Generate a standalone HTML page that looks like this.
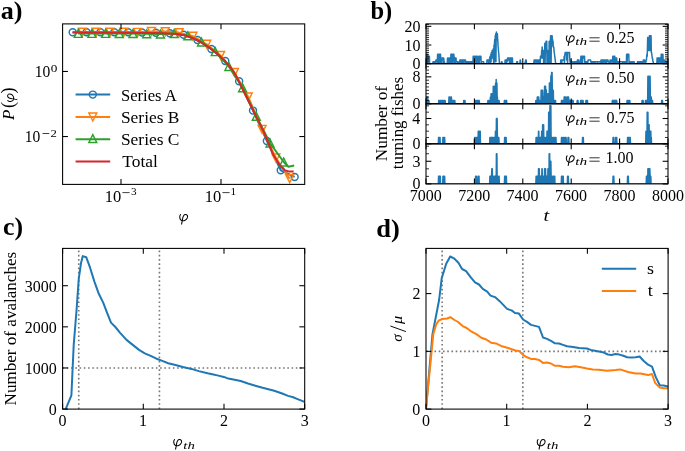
<!DOCTYPE html>
<html><head><meta charset="utf-8"><style>
html,body{margin:0;padding:0;background:#fff;}
svg{display:block;will-change:transform;}
text{font-family:"Liberation Serif", serif;fill:#000;}
</style></head><body>
<svg width="685" height="451" viewBox="0 0 685 451">
<rect width="685" height="451" fill="#fff"/>
<clipPath id="ca"><rect x="62.6" y="23.9" width="242.1" height="160.5"/></clipPath>
<g clip-path="url(#ca)">
<polyline points="72.7,32.2 86.57,32.2 100.44,32.2 114.31,32.25 128.18,32.29 142.05,32.48 155.92,32.73 169.79,33.24 183.66,34.75 197.53,40.07 211.4,49 225.27,60.99 239.14,81.3 253.01,110.6 266.88,140.9 280.75,170.3 294.62,176.9" fill="none" stroke="#1f77b4" stroke-width="2.0" stroke-linejoin="round" />
<circle cx="72.7" cy="32.2" r="3.5" fill="none" stroke="#1f77b4" stroke-width="1.45"/>
<circle cx="86.57" cy="32.2" r="3.5" fill="none" stroke="#1f77b4" stroke-width="1.45"/>
<circle cx="100.44" cy="32.2" r="3.5" fill="none" stroke="#1f77b4" stroke-width="1.45"/>
<circle cx="114.31" cy="32.25" r="3.5" fill="none" stroke="#1f77b4" stroke-width="1.45"/>
<circle cx="128.18" cy="32.29" r="3.5" fill="none" stroke="#1f77b4" stroke-width="1.45"/>
<circle cx="142.05" cy="32.48" r="3.5" fill="none" stroke="#1f77b4" stroke-width="1.45"/>
<circle cx="155.92" cy="32.73" r="3.5" fill="none" stroke="#1f77b4" stroke-width="1.45"/>
<circle cx="169.79" cy="33.24" r="3.5" fill="none" stroke="#1f77b4" stroke-width="1.45"/>
<circle cx="183.66" cy="34.75" r="3.5" fill="none" stroke="#1f77b4" stroke-width="1.45"/>
<circle cx="197.53" cy="40.07" r="3.5" fill="none" stroke="#1f77b4" stroke-width="1.45"/>
<circle cx="211.4" cy="49" r="3.5" fill="none" stroke="#1f77b4" stroke-width="1.45"/>
<circle cx="225.27" cy="60.99" r="3.5" fill="none" stroke="#1f77b4" stroke-width="1.45"/>
<circle cx="239.14" cy="81.3" r="3.5" fill="none" stroke="#1f77b4" stroke-width="1.45"/>
<circle cx="253.01" cy="110.6" r="3.5" fill="none" stroke="#1f77b4" stroke-width="1.45"/>
<circle cx="266.88" cy="140.9" r="3.5" fill="none" stroke="#1f77b4" stroke-width="1.45"/>
<circle cx="280.75" cy="170.3" r="3.5" fill="none" stroke="#1f77b4" stroke-width="1.45"/>
<circle cx="294.62" cy="176.9" r="3.5" fill="none" stroke="#1f77b4" stroke-width="1.45"/>
<polyline points="82.4,32.1 96.22,32.1 110.04,32.13 123.86,32.18 137.68,32.32 151.5,31.53 165.32,31.61 179.14,32.61 192.96,36.18 206.78,44.29 220.6,55.45 234.42,72.5 248.24,97 262.06,129.3 275.88,158 289.7,178.7" fill="none" stroke="#ff7f0e" stroke-width="2.0" stroke-linejoin="round" />
<polygon points="78.45,28.15 86.35,28.15 82.4,36.05" fill="none" stroke="#ff7f0e" stroke-width="1.45" stroke-linejoin="miter"/>
<polygon points="92.27,28.15 100.17,28.15 96.22,36.05" fill="none" stroke="#ff7f0e" stroke-width="1.45" stroke-linejoin="miter"/>
<polygon points="106.09,28.18 113.99,28.18 110.04,36.08" fill="none" stroke="#ff7f0e" stroke-width="1.45" stroke-linejoin="miter"/>
<polygon points="119.91,28.23 127.81,28.23 123.86,36.13" fill="none" stroke="#ff7f0e" stroke-width="1.45" stroke-linejoin="miter"/>
<polygon points="133.73,28.37 141.63,28.37 137.68,36.27" fill="none" stroke="#ff7f0e" stroke-width="1.45" stroke-linejoin="miter"/>
<polygon points="147.55,27.58 155.45,27.58 151.5,35.48" fill="none" stroke="#ff7f0e" stroke-width="1.45" stroke-linejoin="miter"/>
<polygon points="161.37,27.66 169.27,27.66 165.32,35.56" fill="none" stroke="#ff7f0e" stroke-width="1.45" stroke-linejoin="miter"/>
<polygon points="175.19,28.66 183.09,28.66 179.14,36.56" fill="none" stroke="#ff7f0e" stroke-width="1.45" stroke-linejoin="miter"/>
<polygon points="189.01,32.23 196.91,32.23 192.96,40.13" fill="none" stroke="#ff7f0e" stroke-width="1.45" stroke-linejoin="miter"/>
<polygon points="202.83,40.34 210.73,40.34 206.78,48.24" fill="none" stroke="#ff7f0e" stroke-width="1.45" stroke-linejoin="miter"/>
<polygon points="216.65,51.5 224.55,51.5 220.6,59.4" fill="none" stroke="#ff7f0e" stroke-width="1.45" stroke-linejoin="miter"/>
<polygon points="230.47,68.55 238.37,68.55 234.42,76.45" fill="none" stroke="#ff7f0e" stroke-width="1.45" stroke-linejoin="miter"/>
<polygon points="244.29,93.05 252.19,93.05 248.24,100.95" fill="none" stroke="#ff7f0e" stroke-width="1.45" stroke-linejoin="miter"/>
<polygon points="258.11,125.35 266.01,125.35 262.06,133.25" fill="none" stroke="#ff7f0e" stroke-width="1.45" stroke-linejoin="miter"/>
<polygon points="271.93,154.05 279.83,154.05 275.88,161.95" fill="none" stroke="#ff7f0e" stroke-width="1.45" stroke-linejoin="miter"/>
<polygon points="285.75,174.75 293.65,174.75 289.7,182.65" fill="none" stroke="#ff7f0e" stroke-width="1.45" stroke-linejoin="miter"/>
<polyline points="78.2,33.4 91.9,33.4 105.6,33.42 119.3,33.46 133,33.55 146.7,33.75 160.4,34.03 174.1,33.57 187.8,35.88 201.5,42 215.2,51.65 228.9,66.5 242.6,87.8 256.3,116.2 270,143 283.7,162 288.4,166.7 294.2,165.6" fill="none" stroke="#2ca02c" stroke-width="2.0" stroke-linejoin="round" />
<polygon points="74.25,37.35 82.15,37.35 78.2,29.45" fill="none" stroke="#2ca02c" stroke-width="1.45" stroke-linejoin="miter"/>
<polygon points="87.95,37.35 95.85,37.35 91.9,29.45" fill="none" stroke="#2ca02c" stroke-width="1.45" stroke-linejoin="miter"/>
<polygon points="101.65,37.37 109.55,37.37 105.6,29.47" fill="none" stroke="#2ca02c" stroke-width="1.45" stroke-linejoin="miter"/>
<polygon points="115.35,37.41 123.25,37.41 119.3,29.51" fill="none" stroke="#2ca02c" stroke-width="1.45" stroke-linejoin="miter"/>
<polygon points="129.05,37.5 136.95,37.5 133,29.6" fill="none" stroke="#2ca02c" stroke-width="1.45" stroke-linejoin="miter"/>
<polygon points="142.75,37.7 150.65,37.7 146.7,29.8" fill="none" stroke="#2ca02c" stroke-width="1.45" stroke-linejoin="miter"/>
<polygon points="156.45,37.98 164.35,37.98 160.4,30.08" fill="none" stroke="#2ca02c" stroke-width="1.45" stroke-linejoin="miter"/>
<polygon points="170.15,37.52 178.05,37.52 174.1,29.62" fill="none" stroke="#2ca02c" stroke-width="1.45" stroke-linejoin="miter"/>
<polygon points="183.85,39.83 191.75,39.83 187.8,31.93" fill="none" stroke="#2ca02c" stroke-width="1.45" stroke-linejoin="miter"/>
<polygon points="197.55,45.95 205.45,45.95 201.5,38.05" fill="none" stroke="#2ca02c" stroke-width="1.45" stroke-linejoin="miter"/>
<polygon points="211.25,55.6 219.15,55.6 215.2,47.7" fill="none" stroke="#2ca02c" stroke-width="1.45" stroke-linejoin="miter"/>
<polygon points="224.95,70.45 232.85,70.45 228.9,62.55" fill="none" stroke="#2ca02c" stroke-width="1.45" stroke-linejoin="miter"/>
<polygon points="238.65,91.75 246.55,91.75 242.6,83.85" fill="none" stroke="#2ca02c" stroke-width="1.45" stroke-linejoin="miter"/>
<polygon points="252.35,120.15 260.25,120.15 256.3,112.25" fill="none" stroke="#2ca02c" stroke-width="1.45" stroke-linejoin="miter"/>
<polygon points="266.05,146.95 273.95,146.95 270,139.05" fill="none" stroke="#2ca02c" stroke-width="1.45" stroke-linejoin="miter"/>
<polygon points="279.75,165.95 287.65,165.95 283.7,158.05" fill="none" stroke="#2ca02c" stroke-width="1.45" stroke-linejoin="miter"/>
<polyline points="72.4,32.6 100,32.6 130,32.7 150,33 163.3,33.3 176.6,34 184.6,35.3 192.6,38 200.6,42 208.6,47.3 216.6,53.3 224.6,60.6 232.5,69.9 236,75.6 242.6,89 249.3,102.6 255.9,115.9 262.6,129.2 269.8,146.5 273.3,154.8 276.9,160.5 280.4,166.3 284.8,170.3 289.3,171.6 293.7,171.6" fill="none" stroke="#d62728" stroke-width="2.0" stroke-linejoin="round" />
</g>
<rect x="62.6" y="23.9" width="242.1" height="160.5" fill="none" stroke="#000" stroke-width="1.07"/>
<line x1="121" y1="184.4" x2="121" y2="179.07" stroke="#000" stroke-width="1.07" />
<line x1="121" y1="23.9" x2="121" y2="29.23" stroke="#000" stroke-width="1.07" />
<line x1="221" y1="184.4" x2="221" y2="179.07" stroke="#000" stroke-width="1.07" />
<line x1="221" y1="23.9" x2="221" y2="29.23" stroke="#000" stroke-width="1.07" />
<line x1="62.6" y1="71.45" x2="67.93" y2="71.45" stroke="#000" stroke-width="1.07" />
<line x1="304.7" y1="71.45" x2="299.37" y2="71.45" stroke="#000" stroke-width="1.07" />
<line x1="62.6" y1="136.55" x2="67.93" y2="136.55" stroke="#000" stroke-width="1.07" />
<line x1="304.7" y1="136.55" x2="299.37" y2="136.55" stroke="#000" stroke-width="1.07" />
<text x="104.85" y="201.5" font-size="16" textLength="16.48" lengthAdjust="spacingAndGlyphs">10</text>
<line x1="122.4" y1="192.6" x2="129.6" y2="192.6" stroke="#000" stroke-width="0.75" />
<text x="131.06" y="195.1" font-size="11.2">3</text>
<text x="204.85" y="201.5" font-size="16" textLength="16.48" lengthAdjust="spacingAndGlyphs">10</text>
<line x1="222.4" y1="192.6" x2="229.6" y2="192.6" stroke="#000" stroke-width="0.75" />
<text x="230.62" y="195.1" font-size="11.2">1</text>
<text x="34.83" y="76.9" font-size="16" textLength="15.56" lengthAdjust="spacingAndGlyphs">10</text>
<text x="50.8" y="71.8" font-size="11.2" textLength="6.61" lengthAdjust="spacingAndGlyphs">0</text>
<text x="24.83" y="141.9" font-size="16" textLength="15.56" lengthAdjust="spacingAndGlyphs">10</text>
<line x1="42.5" y1="133.5" x2="49.3" y2="133.5" stroke="#000" stroke-width="0.75" />
<text x="50.64" y="136.5" font-size="11.2" textLength="6.36" lengthAdjust="spacingAndGlyphs">2</text>
<line x1="75.6" y1="94.6" x2="110.2" y2="94.6" stroke="#1f77b4" stroke-width="2.0" />
<circle cx="92.8" cy="94.6" r="3.5" fill="none" stroke="#1f77b4" stroke-width="1.45"/>
<line x1="75.6" y1="117" x2="110.2" y2="117" stroke="#ff7f0e" stroke-width="2.0" />
<polygon points="88.85,113.05 96.75,113.05 92.8,120.95" fill="none" stroke="#ff7f0e" stroke-width="1.45" stroke-linejoin="miter"/>
<line x1="75.6" y1="139.2" x2="110.2" y2="139.2" stroke="#2ca02c" stroke-width="2.0" />
<polygon points="88.85,142.55 96.75,142.55 92.8,134.65" fill="none" stroke="#2ca02c" stroke-width="1.45" stroke-linejoin="miter"/>
<line x1="75.6" y1="161.6" x2="110.2" y2="161.6" stroke="#d62728" stroke-width="2.0" />
<text x="120.99" y="100.6" font-size="16.6">Series A</text>
<text x="120.93" y="123.1" font-size="16.6" textLength="58.58" lengthAdjust="spacingAndGlyphs">Series B</text>
<text x="120.93" y="145.2" font-size="16.6" textLength="58.58" lengthAdjust="spacingAndGlyphs">Series C</text>
<text x="122.3" y="167.4" font-size="16.6" textLength="35.54" lengthAdjust="spacingAndGlyphs">Total</text>
<path transform="translate(178.9,213.9) scale(1.0,1.0)" d="M1.6,0.6 C0.4,2.0 0.5,5.4 2.6,6.6 C4.6,7.5 7.4,6.3 8.4,4.0 C9.2,2.0 8.3,0.5 6.6,0.5 C4.9,0.5 3.9,2.8 3.5,6.0 L2.7,10.2" fill="none" stroke="#000" stroke-width="1.05" stroke-linecap="round"/>
<g transform="translate(13.8,120.3) rotate(-90)">
<text x="0.39" y="0" font-size="15.7" font-style="italic" textLength="10.44" lengthAdjust="spacingAndGlyphs">P</text>
<text x="12.4" y="0" font-size="18.5">(</text>
<path transform="translate(18.1,-6.7) scale(0.95,0.97)" d="M1.6,0.6 C0.4,2.0 0.5,5.4 2.6,6.6 C4.6,7.5 7.4,6.3 8.4,4.0 C9.2,2.0 8.3,0.5 6.6,0.5 C4.9,0.5 3.9,2.8 3.5,6.0 L2.7,10.2" fill="none" stroke="#000" stroke-width="1.05" stroke-linecap="round"/>
<text x="26.8" y="0" font-size="18.5">)</text>
</g>
<text x="0.66" y="19.3" font-size="24.5" font-weight="bold" textLength="21.79" lengthAdjust="spacingAndGlyphs">a)</text>
<clipPath id="cb0"><rect x="426.0" y="23.9" width="242.0" height="39.800000000000004"/></clipPath>
<g clip-path="url(#cb0)">
<polyline points="426,63.7 426.24,63.7 426.48,54.36 426.73,59.96 426.97,54.36 427.21,63.7 427.45,54.36 427.69,63.7 427.94,58.09 428.18,56.23 428.42,56.23 428.66,56.23 428.9,56.23 429.15,56.23 429.39,56.23 429.63,63.7 429.87,63.7 430.11,63.7 430.36,63.7 430.6,63.7 430.84,63.7 431.08,63.7 431.32,63.7 431.57,63.7 431.81,63.7 432.05,63.7 432.29,63.7 432.53,63.7 432.78,63.7 433.02,61.83 433.26,63.7 433.5,61.83 433.74,61.83 433.99,63.7 434.23,61.83 434.47,61.83 434.71,61.83 434.95,63.7 435.2,61.83 435.44,61.83 435.68,61.83 435.92,59.96 436.16,59.96 436.41,61.83 436.65,59.96 436.89,59.96 437.13,63.7 437.37,59.96 437.62,54.36 437.86,63.7 438.1,54.36 438.34,63.7 438.58,56.23 438.83,54.36 439.07,54.36 439.31,54.36 439.55,63.7 439.79,54.36 440.04,59.96 440.28,54.36 440.52,54.36 440.76,58.09 441,63.7 441.25,58.09 441.49,63.7 441.73,59.96 441.97,59.96 442.21,58.09 442.46,58.09 442.7,58.09 442.94,58.09 443.18,58.09 443.42,63.7 443.67,58.09 443.91,59.96 444.15,63.7 444.39,61.83 444.63,63.7 444.88,63.7 445.12,63.7 445.36,63.7 445.6,63.7 445.84,63.7 446.09,63.7 446.33,63.7 446.57,63.7 446.81,63.7 447.05,63.7 447.3,61.83 447.54,58.09 447.78,63.7 448.02,61.83 448.26,63.7 448.51,59.96 448.75,58.09 448.99,58.09 449.23,58.09 449.47,58.09 449.72,63.7 449.96,58.09 450.2,58.09 450.44,63.7 450.68,63.7 450.93,54.36 451.17,59.96 451.41,54.36 451.65,54.36 451.89,54.36 452.14,63.7 452.38,58.09 452.62,54.36 452.86,63.7 453.1,54.36 453.35,56.23 453.59,54.36 453.83,54.36 454.07,58.09 454.31,58.09 454.56,63.7 454.8,58.09 455.04,58.09 455.28,58.09 455.52,58.09 455.77,63.7 456.01,58.09 456.25,61.83 456.49,61.83 456.73,61.83 456.98,61.83 457.22,61.83 457.46,61.83 457.7,61.83 457.94,63.7 458.19,61.83 458.43,63.7 458.67,63.7 458.91,63.7 459.15,63.7 459.4,63.7 459.64,63.7 459.88,59.96 460.12,63.7 460.36,59.96 460.61,63.7 460.85,59.96 461.09,59.96 461.33,63.7 461.57,61.83 461.82,59.96 462.06,63.7 462.3,59.96 462.54,63.7 462.78,59.96 463.03,59.96 463.27,59.96 463.51,63.7 463.75,59.96 463.99,63.7 464.24,59.96 464.48,59.96 464.72,59.96 464.96,59.96 465.2,59.96 465.45,59.96 465.69,61.83 465.93,63.7 466.17,63.7 466.41,61.83 466.66,61.83 466.9,61.83 467.14,61.83 467.38,63.7 467.62,61.83 467.87,61.83 468.11,61.83 468.35,61.83 468.59,61.83 468.83,61.83 469.08,63.7 469.32,63.7 469.56,63.7 469.8,63.7 470.04,61.83 470.29,63.7 470.53,61.83 470.77,61.83 471.01,61.83 471.25,61.83 471.5,61.83 471.74,61.83 471.98,63.7 472.22,61.83 472.46,63.7 472.71,61.83 472.95,63.7 473.19,56.23 473.43,63.7 473.67,58.09 473.92,56.23 474.16,61.83 474.4,63.7 474.64,63.7 474.88,63.7 475.13,56.23 475.37,56.23 475.61,56.23 475.85,56.23 476.09,58.09 476.34,56.23 476.58,63.7 476.82,61.83 477.06,58.09 477.3,56.23 477.55,59.96 477.79,61.83 478.03,59.96 478.27,63.7 478.51,63.7 478.76,56.23 479,58.09 479.24,63.7 479.48,56.23 479.72,56.23 479.97,59.96 480.21,58.09 480.45,56.23 480.69,56.23 480.93,56.23 481.18,63.7 481.42,61.83 481.66,61.83 481.9,61.83 482.14,61.83 482.39,61.83 482.63,61.83 482.87,61.83 483.11,61.83 483.35,61.83 483.6,61.83 483.84,63.7 484.08,63.7 484.32,63.7 484.56,63.7 484.81,63.7 485.05,63.7 485.29,63.7 485.53,63.7 485.77,63.7 486.02,63.7 486.26,63.7 486.5,63.7 486.74,63.7 486.98,59.96 487.23,61.83 487.47,59.96 487.71,59.96 487.95,61.83 488.19,59.96 488.44,59.96 488.68,61.83 488.92,63.7 489.16,59.96 489.4,61.83 489.65,58.09 489.89,58.09 490.13,56.23 490.37,56.23 490.61,63.7 490.86,54.36 491.1,61.83 491.34,52.49 491.58,54.36 491.82,58.09 492.07,50.62 492.31,50.62 492.55,50.62 492.79,58.09 493.03,56.23 493.28,48.75 493.52,59.96 493.76,63.7 494,45.01 494.24,56.23 494.49,43.15 494.73,39.41 494.97,61.83 495.21,35.67 495.45,50.62 495.7,33.8 495.94,61.83 496.18,35.67 496.42,31.93 496.66,37.54 496.91,39.41 497.15,39.41 497.39,33.8 497.63,39.41 497.87,41.28 498.12,46.88 498.36,48.75 498.6,52.49 498.84,54.36 499.08,58.09 499.33,61.83 499.57,63.7 499.81,63.7 500.05,63.7 500.29,63.7 500.54,63.7 500.78,63.7 501.02,63.7 501.26,63.7 501.5,61.83 501.75,61.83 501.99,61.83 502.23,63.7 502.47,63.7 502.71,63.7 502.96,63.7 503.2,63.7 503.44,63.7 503.68,63.7 503.92,63.7 504.17,63.7 504.41,63.7 504.65,63.7 504.89,63.7 505.13,59.96 505.38,59.96 505.62,59.96 505.86,59.96 506.1,59.96 506.34,63.7 506.59,59.96 506.83,59.96 507.07,61.83 507.31,59.96 507.55,58.09 507.8,58.09 508.04,59.96 508.28,58.09 508.52,59.96 508.76,58.09 509.01,58.09 509.25,58.09 509.49,63.7 509.73,63.7 509.97,58.09 510.22,63.7 510.46,58.09 510.7,58.09 510.94,58.09 511.18,63.7 511.43,58.09 511.67,58.09 511.91,61.83 512.15,58.09 512.39,58.09 512.64,63.7 512.88,63.7 513.12,63.7 513.36,63.7 513.6,63.7 513.85,63.7 514.09,63.7 514.33,63.7 514.57,63.7 514.81,63.7 515.06,63.7 515.3,63.7 515.54,63.7 515.78,63.7 516.02,63.7 516.27,63.7 516.51,63.7 516.75,61.83 516.99,61.83 517.23,63.7 517.48,61.83 517.72,63.7 517.96,63.7 518.2,63.7 518.44,63.7 518.69,63.7 518.93,63.7 519.17,63.7 519.41,63.7 519.65,63.7 519.9,63.7 520.14,59.96 520.38,59.96 520.62,61.83 520.86,63.7 521.11,63.7 521.35,63.7 521.59,63.7 521.83,63.7 522.07,63.7 522.32,63.7 522.56,63.7 522.8,63.7 523.04,63.7 523.28,63.7 523.53,63.7 523.77,63.7 524.01,63.7 524.25,63.7 524.49,63.7 524.74,63.7 524.98,63.7 525.22,61.83 525.46,63.7 525.7,59.96 525.95,59.96 526.19,59.96 526.43,63.7 526.67,63.7 526.91,63.7 527.16,63.7 527.4,63.7 527.64,63.7 527.88,63.7 528.12,63.7 528.37,63.7 528.61,63.7 528.85,63.7 529.09,63.7 529.33,63.7 529.58,63.7 529.82,63.7 530.06,63.7 530.3,63.7 530.54,63.7 530.79,63.7 531.03,63.7 531.27,63.7 531.51,63.7 531.75,63.7 532,63.7 532.24,63.7 532.48,63.7 532.72,63.7 532.96,63.7 533.21,63.7 533.45,63.7 533.69,63.7 533.93,61.83 534.17,59.96 534.42,63.7 534.66,61.83 534.9,63.7 535.14,59.96 535.38,59.96 535.63,61.83 535.87,59.96 536.11,61.83 536.35,61.83 536.59,59.96 536.84,61.83 537.08,63.7 537.32,59.96 537.56,59.96 537.8,61.83 538.05,61.83 538.29,61.83 538.53,63.7 538.77,59.96 539.01,59.96 539.26,61.83 539.5,59.96 539.74,61.83 539.98,59.96 540.22,63.7 540.47,56.23 540.71,56.23 540.95,58.09 541.19,58.09 541.43,56.23 541.68,50.62 541.92,52.49 542.16,46.88 542.4,54.36 542.64,58.09 542.89,50.62 543.13,56.23 543.37,50.62 543.61,63.7 543.85,50.62 544.1,63.7 544.34,56.23 544.58,56.23 544.82,43.15 545.06,63.7 545.31,50.62 545.55,48.75 545.79,52.49 546.03,41.28 546.27,41.28 546.52,41.28 546.76,41.28 547,63.7 547.24,50.62 547.48,50.62 547.73,50.62 547.97,52.49 548.21,63.7 548.45,50.62 548.69,50.62 548.94,63.7 549.18,41.28 549.42,56.23 549.66,63.7 549.9,41.28 550.15,41.28 550.39,41.28 550.63,35.67 550.87,63.7 551.11,63.7 551.36,35.67 551.6,46.88 551.84,35.67 552.08,35.67 552.32,39.41 552.57,39.41 552.81,41.28 553.05,41.28 553.29,46.88 553.53,46.88 553.78,46.88 554.02,50.62 554.26,52.49 554.5,54.36 554.74,56.23 554.99,58.09 555.23,59.96 555.47,61.83 555.71,63.7 555.95,63.7 556.2,63.7 556.44,63.7 556.68,63.7 556.92,63.7 557.16,63.7 557.41,63.7 557.65,63.7 557.89,63.7 558.13,63.7 558.37,63.7 558.62,63.7 558.86,63.7 559.1,63.7 559.34,63.7 559.58,63.7 559.83,63.7 560.07,63.7 560.31,63.7 560.55,63.7 560.79,59.96 561.04,59.96 561.28,59.96 561.52,61.83 561.76,63.7 562,59.96 562.25,59.96 562.49,59.96 562.73,59.96 562.97,59.96 563.21,59.96 563.46,59.96 563.7,59.96 563.94,59.96 564.18,56.23 564.42,63.7 564.67,56.23 564.91,54.36 565.15,52.49 565.39,52.49 565.63,52.49 565.88,52.49 566.12,52.49 566.36,52.49 566.6,59.96 566.84,52.49 567.09,52.49 567.33,52.49 567.57,63.7 567.81,52.49 568.05,52.49 568.3,52.49 568.54,52.49 568.78,52.49 569.02,52.49 569.26,52.49 569.51,52.49 569.75,58.09 569.99,61.83 570.23,59.96 570.47,63.7 570.72,59.96 570.96,63.7 571.2,63.7 571.44,61.83 571.68,61.83 571.93,61.83 572.17,63.7 572.41,63.7 572.65,61.83 572.89,61.83 573.14,61.83 573.38,63.7 573.62,63.7 573.86,63.7 574.1,61.83 574.35,61.83 574.59,63.7 574.83,61.83 575.07,61.83 575.31,61.83 575.56,61.83 575.8,61.83 576.04,63.7 576.28,61.83 576.52,61.83 576.77,61.83 577.01,61.83 577.25,61.83 577.49,59.96 577.73,63.7 577.98,59.96 578.22,63.7 578.46,61.83 578.7,59.96 578.94,59.96 579.19,61.83 579.43,63.7 579.67,63.7 579.91,63.7 580.15,63.7 580.4,63.7 580.64,63.7 580.88,56.23 581.12,58.09 581.36,56.23 581.61,56.23 581.85,63.7 582.09,56.23 582.33,59.96 582.57,63.7 582.82,56.23 583.06,56.23 583.3,56.23 583.54,58.09 583.78,56.23 584.03,56.23 584.27,58.09 584.51,56.23 584.75,61.83 584.99,63.7 585.24,61.83 585.48,61.83 585.72,61.83 585.96,61.83 586.2,61.83 586.45,61.83 586.69,63.7 586.93,61.83 587.17,61.83 587.41,61.83 587.66,63.7 587.9,61.83 588.14,59.96 588.38,59.96 588.62,59.96 588.87,59.96 589.11,59.96 589.35,59.96 589.59,59.96 589.83,59.96 590.08,59.96 590.32,59.96 590.56,59.96 590.8,61.83 591.04,61.83 591.29,61.83 591.53,63.7 591.77,61.83 592.01,63.7 592.25,61.83 592.5,61.83 592.74,63.7 592.98,61.83 593.22,61.83 593.46,61.83 593.71,63.7 593.95,61.83 594.19,63.7 594.43,61.83 594.67,61.83 594.92,63.7 595.16,61.83 595.4,61.83 595.64,61.83 595.88,61.83 596.13,61.83 596.37,61.83 596.61,61.83 596.85,61.83 597.09,61.83 597.34,61.83 597.58,63.7 597.82,61.83 598.06,61.83 598.3,61.83 598.55,61.83 598.79,61.83 599.03,61.83 599.27,61.83 599.51,61.83 599.76,61.83 600,61.83 600.24,61.83 600.48,63.7 600.72,63.7 600.97,59.96 601.21,59.96 601.45,59.96 601.69,63.7 601.93,63.7 602.18,59.96 602.42,59.96 602.66,59.96 602.9,59.96 603.14,63.7 603.39,59.96 603.63,59.96 603.87,59.96 604.11,59.96 604.35,61.83 604.6,59.96 604.84,59.96 605.08,63.7 605.32,61.83 605.56,63.7 605.81,59.96 606.05,61.83 606.29,63.7 606.53,59.96 606.77,59.96 607.02,61.83 607.26,59.96 607.5,59.96 607.74,59.96 607.98,59.96 608.23,61.83 608.47,61.83 608.71,61.83 608.95,61.83 609.19,63.7 609.44,61.83 609.68,61.83 609.92,61.83 610.16,59.96 610.4,61.83 610.65,63.7 610.89,63.7 611.13,59.96 611.37,61.83 611.61,59.96 611.86,59.96 612.1,59.96 612.34,59.96 612.58,61.83 612.82,56.23 613.07,63.7 613.31,59.96 613.55,63.7 613.79,56.23 614.03,56.23 614.28,56.23 614.52,63.7 614.76,56.23 615,63.7 615.24,61.83 615.49,59.96 615.73,59.96 615.97,58.09 616.21,58.09 616.45,63.7 616.7,58.09 616.94,61.83 617.18,63.7 617.42,61.83 617.66,61.83 617.91,63.7 618.15,63.7 618.39,61.83 618.63,63.7 618.87,61.83 619.12,61.83 619.36,61.83 619.6,61.83 619.84,61.83 620.08,61.83 620.33,61.83 620.57,61.83 620.81,61.83 621.05,61.83 621.29,61.83 621.54,61.83 621.78,61.83 622.02,61.83 622.26,61.83 622.5,61.83 622.75,63.7 622.99,61.83 623.23,61.83 623.47,61.83 623.71,63.7 623.96,61.83 624.2,63.7 624.44,61.83 624.68,61.83 624.92,61.83 625.17,63.7 625.41,63.7 625.65,61.83 625.89,61.83 626.13,61.83 626.38,63.7 626.62,54.36 626.86,54.36 627.1,63.7 627.34,54.36 627.59,54.36 627.83,56.23 628.07,54.36 628.31,54.36 628.55,54.36 628.8,54.36 629.04,63.7 629.28,61.83 629.52,61.83 629.76,61.83 630.01,61.83 630.25,63.7 630.49,61.83 630.73,61.83 630.97,63.7 631.22,61.83 631.46,63.7 631.7,63.7 631.94,63.7 632.18,61.83 632.43,63.7 632.67,63.7 632.91,63.7 633.15,63.7 633.39,61.83 633.64,61.83 633.88,61.83 634.12,61.83 634.36,63.7 634.6,63.7 634.85,63.7 635.09,63.7 635.33,63.7 635.57,63.7 635.81,63.7 636.06,63.7 636.3,63.7 636.54,63.7 636.78,63.7 637.02,63.7 637.27,63.7 637.51,61.83 637.75,63.7 637.99,61.83 638.23,61.83 638.48,61.83 638.72,61.83 638.96,61.83 639.2,63.7 639.44,61.83 639.69,61.83 639.93,63.7 640.17,61.83 640.41,61.83 640.65,63.7 640.9,61.83 641.14,61.83 641.38,61.83 641.62,61.83 641.86,61.83 642.11,61.83 642.35,63.7 642.59,63.7 642.83,61.83 643.07,63.7 643.32,59.96 643.56,59.96 643.8,59.96 644.04,59.96 644.28,59.96 644.53,59.96 644.77,61.83 645.01,63.7 645.25,63.7 645.49,63.7 645.74,61.83 645.98,61.83 646.22,59.96 646.46,59.96 646.7,56.23 646.95,54.36 647.19,56.23 647.43,48.75 647.67,37.54 647.91,37.54 648.16,41.28 648.4,43.15 648.64,37.54 648.88,50.62 649.12,48.75 649.37,35.67 649.61,43.15 649.85,35.67 650.09,35.67 650.33,50.62 650.58,35.67 650.82,35.67 651.06,35.67 651.3,52.49 651.54,52.49 651.79,54.36 652.03,56.23 652.27,58.09 652.51,58.09 652.75,59.96 653,61.83 653.24,61.83 653.48,63.7 653.72,63.7 653.96,63.7 654.21,63.7 654.45,63.7 654.69,63.7 654.93,63.7 655.17,63.7 655.42,63.7 655.66,63.7 655.9,63.7 656.14,63.7 656.38,63.7 656.63,63.7 656.87,63.7 657.11,58.09 657.35,63.7 657.59,58.09 657.84,59.96 658.08,58.09 658.32,58.09 658.56,63.7 658.8,58.09 659.05,58.09 659.29,58.09 659.53,58.09 659.77,58.09 660.01,61.83 660.26,58.09 660.5,63.7 660.74,63.7 660.98,63.7 661.22,54.36 661.47,63.7 661.71,54.36 661.95,63.7 662.19,63.7 662.43,58.09 662.68,54.36 662.92,54.36 663.16,59.96 663.4,59.96 663.64,59.96 663.89,63.7 664.13,63.7 664.37,59.96 664.61,61.83 664.85,61.83 665.1,61.83 665.34,61.83 665.58,61.83 665.82,61.83 666.06,61.83 666.31,63.7 666.55,61.83 666.79,61.83 667.03,63.7 667.27,61.83 667.52,63.7 667.76,63.7 668,61.83" fill="none" stroke="#1f77b4" stroke-width="1.5" stroke-linejoin="round" stroke-linejoin="miter" stroke-miterlimit="3"/>
</g>
<rect x="426" y="23.9" width="242" height="39.8" fill="none" stroke="#000" stroke-width="1.07"/>
<line x1="426" y1="63.7" x2="426" y2="58.37" stroke="#000" stroke-width="1.07" />
<line x1="426" y1="23.9" x2="426" y2="29.23" stroke="#000" stroke-width="1.07" />
<line x1="474.4" y1="63.7" x2="474.4" y2="58.37" stroke="#000" stroke-width="1.07" />
<line x1="474.4" y1="23.9" x2="474.4" y2="29.23" stroke="#000" stroke-width="1.07" />
<line x1="522.8" y1="63.7" x2="522.8" y2="58.37" stroke="#000" stroke-width="1.07" />
<line x1="522.8" y1="23.9" x2="522.8" y2="29.23" stroke="#000" stroke-width="1.07" />
<line x1="571.2" y1="63.7" x2="571.2" y2="58.37" stroke="#000" stroke-width="1.07" />
<line x1="571.2" y1="23.9" x2="571.2" y2="29.23" stroke="#000" stroke-width="1.07" />
<line x1="619.6" y1="63.7" x2="619.6" y2="58.37" stroke="#000" stroke-width="1.07" />
<line x1="619.6" y1="23.9" x2="619.6" y2="29.23" stroke="#000" stroke-width="1.07" />
<line x1="668" y1="63.7" x2="668" y2="58.37" stroke="#000" stroke-width="1.07" />
<line x1="668" y1="23.9" x2="668" y2="29.23" stroke="#000" stroke-width="1.07" />
<line x1="426" y1="63.7" x2="431.33" y2="63.7" stroke="#000" stroke-width="1.07" />
<line x1="668" y1="63.7" x2="662.67" y2="63.7" stroke="#000" stroke-width="1.07" />
<line x1="426" y1="61.83" x2="429" y2="61.83" stroke="#000" stroke-width="0.8" />
<line x1="668" y1="61.83" x2="665" y2="61.83" stroke="#000" stroke-width="0.8" />
<line x1="426" y1="59.96" x2="429" y2="59.96" stroke="#000" stroke-width="0.8" />
<line x1="668" y1="59.96" x2="665" y2="59.96" stroke="#000" stroke-width="0.8" />
<line x1="426" y1="58.09" x2="429" y2="58.09" stroke="#000" stroke-width="0.8" />
<line x1="668" y1="58.09" x2="665" y2="58.09" stroke="#000" stroke-width="0.8" />
<line x1="426" y1="56.23" x2="429" y2="56.23" stroke="#000" stroke-width="0.8" />
<line x1="668" y1="56.23" x2="665" y2="56.23" stroke="#000" stroke-width="0.8" />
<line x1="426" y1="54.36" x2="429" y2="54.36" stroke="#000" stroke-width="0.8" />
<line x1="668" y1="54.36" x2="665" y2="54.36" stroke="#000" stroke-width="0.8" />
<line x1="426" y1="52.49" x2="429" y2="52.49" stroke="#000" stroke-width="0.8" />
<line x1="668" y1="52.49" x2="665" y2="52.49" stroke="#000" stroke-width="0.8" />
<line x1="426" y1="50.62" x2="429" y2="50.62" stroke="#000" stroke-width="0.8" />
<line x1="668" y1="50.62" x2="665" y2="50.62" stroke="#000" stroke-width="0.8" />
<line x1="426" y1="48.75" x2="429" y2="48.75" stroke="#000" stroke-width="0.8" />
<line x1="668" y1="48.75" x2="665" y2="48.75" stroke="#000" stroke-width="0.8" />
<line x1="426" y1="46.88" x2="429" y2="46.88" stroke="#000" stroke-width="0.8" />
<line x1="668" y1="46.88" x2="665" y2="46.88" stroke="#000" stroke-width="0.8" />
<line x1="426" y1="45.01" x2="431.33" y2="45.01" stroke="#000" stroke-width="1.07" />
<line x1="668" y1="45.01" x2="662.67" y2="45.01" stroke="#000" stroke-width="1.07" />
<line x1="426" y1="43.15" x2="429" y2="43.15" stroke="#000" stroke-width="0.8" />
<line x1="668" y1="43.15" x2="665" y2="43.15" stroke="#000" stroke-width="0.8" />
<line x1="426" y1="41.28" x2="429" y2="41.28" stroke="#000" stroke-width="0.8" />
<line x1="668" y1="41.28" x2="665" y2="41.28" stroke="#000" stroke-width="0.8" />
<line x1="426" y1="39.41" x2="429" y2="39.41" stroke="#000" stroke-width="0.8" />
<line x1="668" y1="39.41" x2="665" y2="39.41" stroke="#000" stroke-width="0.8" />
<line x1="426" y1="37.54" x2="429" y2="37.54" stroke="#000" stroke-width="0.8" />
<line x1="668" y1="37.54" x2="665" y2="37.54" stroke="#000" stroke-width="0.8" />
<line x1="426" y1="35.67" x2="429" y2="35.67" stroke="#000" stroke-width="0.8" />
<line x1="668" y1="35.67" x2="665" y2="35.67" stroke="#000" stroke-width="0.8" />
<line x1="426" y1="33.8" x2="429" y2="33.8" stroke="#000" stroke-width="0.8" />
<line x1="668" y1="33.8" x2="665" y2="33.8" stroke="#000" stroke-width="0.8" />
<line x1="426" y1="31.93" x2="429" y2="31.93" stroke="#000" stroke-width="0.8" />
<line x1="668" y1="31.93" x2="665" y2="31.93" stroke="#000" stroke-width="0.8" />
<line x1="426" y1="30.07" x2="429" y2="30.07" stroke="#000" stroke-width="0.8" />
<line x1="668" y1="30.07" x2="665" y2="30.07" stroke="#000" stroke-width="0.8" />
<line x1="426" y1="28.2" x2="429" y2="28.2" stroke="#000" stroke-width="0.8" />
<line x1="668" y1="28.2" x2="665" y2="28.2" stroke="#000" stroke-width="0.8" />
<line x1="426" y1="26.33" x2="431.33" y2="26.33" stroke="#000" stroke-width="1.07" />
<line x1="668" y1="26.33" x2="662.67" y2="26.33" stroke="#000" stroke-width="1.07" />
<line x1="426" y1="24.46" x2="429" y2="24.46" stroke="#000" stroke-width="0.8" />
<line x1="668" y1="24.46" x2="665" y2="24.46" stroke="#000" stroke-width="0.8" />
<text x="412.51" y="69.2" font-size="16">0</text>
<text x="404.51" y="50.51" font-size="16">10</text>
<text x="404.51" y="31.83" font-size="16">20</text>
<path transform="translate(565.5,35.3) scale(1.0,1.0)" d="M1.6,0.6 C0.4,2.0 0.5,5.4 2.6,6.6 C4.6,7.5 7.4,6.3 8.4,4.0 C9.2,2.0 8.3,0.5 6.6,0.5 C4.9,0.5 3.9,2.8 3.5,6.0 L2.7,10.2" fill="none" stroke="#000" stroke-width="1.05" stroke-linecap="round"/>
<text x="575.33" y="44.6" font-size="11.2" font-style="italic" textLength="11.91" lengthAdjust="spacingAndGlyphs">th</text>
<line x1="589.4" y1="37.8" x2="599.6" y2="37.8" stroke="#000" stroke-width="0.8" />
<line x1="589.4" y1="41.2" x2="599.6" y2="41.2" stroke="#000" stroke-width="0.8" />
<text x="606.39" y="43.1" font-size="16">0.25</text>
<clipPath id="cb1"><rect x="426.0" y="63.7" width="242.0" height="40.099999999999994"/></clipPath>
<g clip-path="url(#cb1)">
<polyline points="426,97.06 426.24,97.06 426.48,103.8 426.73,97.06 426.97,97.06 427.21,103.8 427.45,103.8 427.69,97.06 427.94,103.8 428.18,100.43 428.42,100.43 428.66,103.8 428.9,100.43 429.15,103.8 429.39,103.8 429.63,103.8 429.87,103.8 430.11,103.8 430.36,103.8 430.6,103.8 430.84,103.8 431.08,103.8 431.32,103.8 431.57,103.8 431.81,103.8 432.05,103.8 432.29,103.8 432.53,103.8 432.78,103.8 433.02,103.8 433.26,103.8 433.5,103.8 433.74,103.8 433.99,103.8 434.23,103.8 434.47,103.8 434.71,103.8 434.95,103.8 435.2,103.8 435.44,103.8 435.68,103.8 435.92,103.8 436.16,103.8 436.41,103.8 436.65,103.8 436.89,103.8 437.13,103.8 437.37,103.8 437.62,103.8 437.86,103.8 438.1,103.8 438.34,103.8 438.58,103.8 438.83,100.43 439.07,103.8 439.31,100.43 439.55,100.43 439.79,103.8 440.04,103.8 440.28,100.43 440.52,103.8 440.76,103.8 441,100.43 441.25,103.8 441.49,100.43 441.73,103.8 441.97,103.8 442.21,100.43 442.46,103.8 442.7,103.8 442.94,100.43 443.18,103.8 443.42,103.8 443.67,100.43 443.91,100.43 444.15,103.8 444.39,100.43 444.63,103.8 444.88,103.8 445.12,100.43 445.36,103.8 445.6,103.8 445.84,103.8 446.09,103.8 446.33,103.8 446.57,103.8 446.81,103.8 447.05,103.8 447.3,103.8 447.54,103.8 447.78,103.8 448.02,103.8 448.26,103.8 448.51,103.8 448.75,103.8 448.99,97.06 449.23,97.06 449.47,103.8 449.72,103.8 449.96,97.06 450.2,100.43 450.44,103.8 450.68,100.43 450.93,100.43 451.17,97.06 451.41,97.06 451.65,103.8 451.89,100.43 452.14,100.43 452.38,103.8 452.62,100.43 452.86,103.8 453.1,100.43 453.35,100.43 453.59,103.8 453.83,100.43 454.07,100.43 454.31,103.8 454.56,103.8 454.8,100.43 455.04,103.8 455.28,103.8 455.52,103.8 455.77,103.8 456.01,103.8 456.25,103.8 456.49,103.8 456.73,103.8 456.98,103.8 457.22,103.8 457.46,103.8 457.7,103.8 457.94,103.8 458.19,103.8 458.43,103.8 458.67,103.8 458.91,103.8 459.15,103.8 459.4,103.8 459.64,103.8 459.88,103.8 460.12,103.8 460.36,103.8 460.61,103.8 460.85,103.8 461.09,103.8 461.33,103.8 461.57,103.8 461.82,103.8 462.06,103.8 462.3,103.8 462.54,103.8 462.78,103.8 463.03,103.8 463.27,103.8 463.51,103.8 463.75,100.43 463.99,100.43 464.24,103.8 464.48,103.8 464.72,100.43 464.96,100.43 465.2,103.8 465.45,103.8 465.69,103.8 465.93,103.8 466.17,103.8 466.41,103.8 466.66,103.8 466.9,103.8 467.14,103.8 467.38,103.8 467.62,103.8 467.87,103.8 468.11,103.8 468.35,103.8 468.59,103.8 468.83,103.8 469.08,103.8 469.32,103.8 469.56,103.8 469.8,103.8 470.04,103.8 470.29,103.8 470.53,103.8 470.77,103.8 471.01,103.8 471.25,103.8 471.5,103.8 471.74,103.8 471.98,103.8 472.22,103.8 472.46,103.8 472.71,103.8 472.95,103.8 473.19,103.8 473.43,103.8 473.67,103.8 473.92,103.8 474.16,103.8 474.4,103.8 474.64,103.8 474.88,103.8 475.13,103.8 475.37,103.8 475.61,100.43 475.85,100.43 476.09,103.8 476.34,103.8 476.58,100.43 476.82,100.43 477.06,103.8 477.3,103.8 477.55,100.43 477.79,100.43 478.03,103.8 478.27,100.43 478.51,100.43 478.76,103.8 479,103.8 479.24,100.43 479.48,103.8 479.72,103.8 479.97,103.8 480.21,103.8 480.45,103.8 480.69,103.8 480.93,103.8 481.18,103.8 481.42,103.8 481.66,103.8 481.9,103.8 482.14,103.8 482.39,103.8 482.63,103.8 482.87,103.8 483.11,103.8 483.35,103.8 483.6,103.8 483.84,103.8 484.08,103.8 484.32,103.8 484.56,103.8 484.81,103.8 485.05,103.8 485.29,103.8 485.53,103.8 485.77,103.8 486.02,103.8 486.26,103.8 486.5,103.8 486.74,103.8 486.98,103.8 487.23,103.8 487.47,103.8 487.71,103.8 487.95,100.43 488.19,100.43 488.44,103.8 488.68,103.8 488.92,100.43 489.16,103.8 489.4,103.8 489.65,103.8 489.89,103.8 490.13,103.8 490.37,97.06 490.61,103.8 490.86,103.8 491.1,93.69 491.34,103.8 491.58,93.69 491.82,93.69 492.07,100.43 492.31,103.8 492.55,100.43 492.79,100.43 493.03,103.8 493.28,86.28 493.52,103.8 493.76,103.8 494,89.65 494.24,89.65 494.49,103.8 494.73,86.28 494.97,103.8 495.21,103.8 495.45,86.28 495.7,82.91 495.94,103.8 496.18,79.54 496.42,103.8 496.66,82.91 496.91,82.91 497.15,97.06 497.39,97.06 497.63,103.8 497.87,103.8 498.12,100.43 498.36,103.8 498.6,103.8 498.84,100.43 499.08,100.43 499.33,103.8 499.57,103.8 499.81,103.8 500.05,103.8 500.29,103.8 500.54,103.8 500.78,103.8 501.02,103.8 501.26,103.8 501.5,103.8 501.75,103.8 501.99,103.8 502.23,103.8 502.47,103.8 502.71,103.8 502.96,103.8 503.2,103.8 503.44,103.8 503.68,103.8 503.92,103.8 504.17,103.8 504.41,100.43 504.65,100.43 504.89,103.8 505.13,100.43 505.38,100.43 505.62,103.8 505.86,103.8 506.1,100.43 506.34,103.8 506.59,100.43 506.83,103.8 507.07,103.8 507.31,103.8 507.55,103.8 507.8,103.8 508.04,103.8 508.28,103.8 508.52,103.8 508.76,103.8 509.01,103.8 509.25,103.8 509.49,103.8 509.73,103.8 509.97,103.8 510.22,103.8 510.46,103.8 510.7,103.8 510.94,103.8 511.18,103.8 511.43,103.8 511.67,103.8 511.91,103.8 512.15,103.8 512.39,103.8 512.64,103.8 512.88,103.8 513.12,103.8 513.36,103.8 513.6,103.8 513.85,103.8 514.09,103.8 514.33,103.8 514.57,103.8 514.81,103.8 515.06,103.8 515.3,103.8 515.54,103.8 515.78,103.8 516.02,103.8 516.27,103.8 516.51,103.8 516.75,103.8 516.99,103.8 517.23,103.8 517.48,103.8 517.72,103.8 517.96,103.8 518.2,103.8 518.44,103.8 518.69,103.8 518.93,103.8 519.17,103.8 519.41,103.8 519.65,103.8 519.9,103.8 520.14,103.8 520.38,103.8 520.62,103.8 520.86,103.8 521.11,103.8 521.35,103.8 521.59,103.8 521.83,103.8 522.07,103.8 522.32,103.8 522.56,103.8 522.8,103.8 523.04,103.8 523.28,103.8 523.53,103.8 523.77,103.8 524.01,103.8 524.25,103.8 524.49,103.8 524.74,103.8 524.98,103.8 525.22,103.8 525.46,103.8 525.7,103.8 525.95,103.8 526.19,103.8 526.43,103.8 526.67,103.8 526.91,103.8 527.16,103.8 527.4,103.8 527.64,103.8 527.88,103.8 528.12,103.8 528.37,103.8 528.61,103.8 528.85,103.8 529.09,103.8 529.33,103.8 529.58,103.8 529.82,103.8 530.06,103.8 530.3,103.8 530.54,103.8 530.79,103.8 531.03,103.8 531.27,103.8 531.51,103.8 531.75,103.8 532,103.8 532.24,103.8 532.48,103.8 532.72,103.8 532.96,103.8 533.21,103.8 533.45,103.8 533.69,103.8 533.93,103.8 534.17,103.8 534.42,103.8 534.66,103.8 534.9,103.8 535.14,103.8 535.38,103.8 535.63,103.8 535.87,100.43 536.11,103.8 536.35,103.8 536.59,100.43 536.84,103.8 537.08,100.43 537.32,97.06 537.56,97.06 537.8,103.8 538.05,97.06 538.29,103.8 538.53,103.8 538.77,97.06 539.01,103.8 539.26,103.8 539.5,100.43 539.74,100.43 539.98,103.8 540.22,103.8 540.47,100.43 540.71,103.8 540.95,100.43 541.19,90.32 541.43,90.32 541.68,103.8 541.92,90.32 542.16,103.8 542.4,103.8 542.64,90.32 542.89,97.06 543.13,103.8 543.37,103.8 543.61,97.06 543.85,97.06 544.1,103.8 544.34,103.8 544.58,86.28 544.82,86.28 545.06,103.8 545.31,103.8 545.55,86.28 545.79,103.8 546.03,89.65 546.27,89.65 546.52,97.06 546.76,103.8 547,93.69 547.24,93.69 547.48,97.06 547.73,97.06 547.97,103.8 548.21,93.69 548.45,93.69 548.69,103.8 548.94,97.06 549.18,103.8 549.42,82.91 549.66,103.8 549.9,82.91 550.15,82.91 550.39,103.8 550.63,103.8 550.87,75.83 551.11,103.8 551.36,103.8 551.6,72.46 551.84,103.8 552.08,72.46 552.32,90.32 552.57,90.32 552.81,103.8 553.05,103.8 553.29,90.32 553.53,103.8 553.78,100.43 554.02,100.43 554.26,103.8 554.5,100.43 554.74,100.43 554.99,103.8 555.23,103.8 555.47,100.43 555.71,103.8 555.95,103.8 556.2,103.8 556.44,103.8 556.68,103.8 556.92,103.8 557.16,103.8 557.41,103.8 557.65,103.8 557.89,103.8 558.13,103.8 558.37,103.8 558.62,103.8 558.86,103.8 559.1,103.8 559.34,103.8 559.58,103.8 559.83,103.8 560.07,103.8 560.31,103.8 560.55,103.8 560.79,103.8 561.04,103.8 561.28,103.8 561.52,100.43 561.76,103.8 562,100.43 562.25,103.8 562.49,100.43 562.73,100.43 562.97,103.8 563.21,103.8 563.46,100.43 563.7,100.43 563.94,103.8 564.18,97.06 564.42,103.8 564.67,97.06 564.91,103.8 565.15,103.8 565.39,97.06 565.63,97.06 565.88,103.8 566.12,103.8 566.36,100.43 566.6,103.8 566.84,103.8 567.09,97.06 567.33,103.8 567.57,97.06 567.81,103.8 568.05,103.8 568.3,97.06 568.54,97.06 568.78,100.43 569.02,100.43 569.26,103.8 569.51,100.43 569.75,100.43 569.99,103.8 570.23,103.8 570.47,100.43 570.72,103.8 570.96,100.43 571.2,103.8 571.44,103.8 571.68,103.8 571.93,100.43 572.17,100.43 572.41,103.8 572.65,100.43 572.89,103.8 573.14,100.43 573.38,103.8 573.62,103.8 573.86,103.8 574.1,103.8 574.35,103.8 574.59,103.8 574.83,103.8 575.07,103.8 575.31,103.8 575.56,103.8 575.8,103.8 576.04,103.8 576.28,103.8 576.52,103.8 576.77,103.8 577.01,103.8 577.25,100.43 577.49,100.43 577.73,103.8 577.98,100.43 578.22,103.8 578.46,103.8 578.7,103.8 578.94,103.8 579.19,103.8 579.43,103.8 579.67,103.8 579.91,103.8 580.15,103.8 580.4,103.8 580.64,100.43 580.88,103.8 581.12,103.8 581.36,100.43 581.61,100.43 581.85,103.8 582.09,103.8 582.33,100.43 582.57,100.43 582.82,103.8 583.06,100.43 583.3,103.8 583.54,103.8 583.78,103.8 584.03,103.8 584.27,103.8 584.51,103.8 584.75,103.8 584.99,103.8 585.24,103.8 585.48,103.8 585.72,103.8 585.96,100.43 586.2,103.8 586.45,100.43 586.69,103.8 586.93,103.8 587.17,100.43 587.41,100.43 587.66,103.8 587.9,103.8 588.14,103.8 588.38,103.8 588.62,103.8 588.87,103.8 589.11,103.8 589.35,103.8 589.59,103.8 589.83,103.8 590.08,103.8 590.32,103.8 590.56,103.8 590.8,103.8 591.04,103.8 591.29,103.8 591.53,103.8 591.77,103.8 592.01,103.8 592.25,103.8 592.5,103.8 592.74,103.8 592.98,103.8 593.22,103.8 593.46,103.8 593.71,103.8 593.95,103.8 594.19,103.8 594.43,103.8 594.67,103.8 594.92,103.8 595.16,103.8 595.4,103.8 595.64,103.8 595.88,103.8 596.13,103.8 596.37,103.8 596.61,103.8 596.85,103.8 597.09,103.8 597.34,103.8 597.58,103.8 597.82,103.8 598.06,103.8 598.3,103.8 598.55,103.8 598.79,103.8 599.03,103.8 599.27,103.8 599.51,103.8 599.76,103.8 600,103.8 600.24,103.8 600.48,103.8 600.72,103.8 600.97,103.8 601.21,103.8 601.45,103.8 601.69,103.8 601.93,103.8 602.18,103.8 602.42,103.8 602.66,103.8 602.9,103.8 603.14,103.8 603.39,103.8 603.63,103.8 603.87,103.8 604.11,103.8 604.35,103.8 604.6,103.8 604.84,103.8 605.08,103.8 605.32,103.8 605.56,103.8 605.81,103.8 606.05,103.8 606.29,103.8 606.53,103.8 606.77,103.8 607.02,103.8 607.26,103.8 607.5,103.8 607.74,103.8 607.98,103.8 608.23,103.8 608.47,103.8 608.71,103.8 608.95,103.8 609.19,103.8 609.44,103.8 609.68,103.8 609.92,103.8 610.16,103.8 610.4,103.8 610.65,103.8 610.89,103.8 611.13,103.8 611.37,103.8 611.61,103.8 611.86,103.8 612.1,103.8 612.34,100.43 612.58,103.8 612.82,100.43 613.07,103.8 613.31,100.43 613.55,103.8 613.79,103.8 614.03,100.43 614.28,100.43 614.52,103.8 614.76,100.43 615,103.8 615.24,100.43 615.49,103.8 615.73,100.43 615.97,100.43 616.21,103.8 616.45,100.43 616.7,100.43 616.94,103.8 617.18,103.8 617.42,103.8 617.66,103.8 617.91,103.8 618.15,103.8 618.39,103.8 618.63,103.8 618.87,103.8 619.12,103.8 619.36,103.8 619.6,103.8 619.84,103.8 620.08,103.8 620.33,103.8 620.57,103.8 620.81,103.8 621.05,103.8 621.29,103.8 621.54,103.8 621.78,103.8 622.02,103.8 622.26,103.8 622.5,103.8 622.75,103.8 622.99,103.8 623.23,103.8 623.47,103.8 623.71,103.8 623.96,103.8 624.2,103.8 624.44,103.8 624.68,103.8 624.92,103.8 625.17,103.8 625.41,103.8 625.65,103.8 625.89,103.8 626.13,103.8 626.38,103.8 626.62,103.8 626.86,103.8 627.1,100.43 627.34,103.8 627.59,103.8 627.83,100.43 628.07,100.43 628.31,103.8 628.55,103.8 628.8,100.43 629.04,100.43 629.28,103.8 629.52,103.8 629.76,100.43 630.01,103.8 630.25,103.8 630.49,103.8 630.73,103.8 630.97,103.8 631.22,103.8 631.46,103.8 631.7,103.8 631.94,103.8 632.18,103.8 632.43,103.8 632.67,103.8 632.91,103.8 633.15,103.8 633.39,103.8 633.64,103.8 633.88,103.8 634.12,103.8 634.36,103.8 634.6,103.8 634.85,103.8 635.09,103.8 635.33,103.8 635.57,103.8 635.81,103.8 636.06,103.8 636.3,103.8 636.54,103.8 636.78,103.8 637.02,103.8 637.27,103.8 637.51,103.8 637.75,103.8 637.99,103.8 638.23,103.8 638.48,103.8 638.72,103.8 638.96,103.8 639.2,103.8 639.44,103.8 639.69,103.8 639.93,103.8 640.17,103.8 640.41,103.8 640.65,103.8 640.9,103.8 641.14,103.8 641.38,103.8 641.62,103.8 641.86,103.8 642.11,100.43 642.35,100.43 642.59,103.8 642.83,100.43 643.07,100.43 643.32,103.8 643.56,103.8 643.8,103.8 644.04,103.8 644.28,103.8 644.53,103.8 644.77,103.8 645.01,103.8 645.25,103.8 645.49,100.43 645.74,100.43 645.98,103.8 646.22,103.8 646.46,100.43 646.7,103.8 646.95,100.43 647.19,103.8 647.43,103.8 647.67,100.43 647.91,76.17 648.16,76.17 648.4,103.8 648.64,103.8 648.88,76.17 649.12,76.17 649.37,103.8 649.61,79.54 649.85,103.8 650.09,76.17 650.33,97.06 650.58,97.06 650.82,103.8 651.06,97.06 651.3,97.06 651.54,103.8 651.79,100.43 652.03,100.43 652.27,103.8 652.51,100.43 652.75,103.8 653,103.8 653.24,103.8 653.48,103.8 653.72,103.8 653.96,103.8 654.21,103.8 654.45,103.8 654.69,103.8 654.93,103.8 655.17,103.8 655.42,103.8 655.66,103.8 655.9,103.8 656.14,103.8 656.38,103.8 656.63,103.8 656.87,103.8 657.11,103.8 657.35,103.8 657.59,103.8 657.84,103.8 658.08,103.8 658.32,103.8 658.56,103.8 658.8,103.8 659.05,103.8 659.29,103.8 659.53,103.8 659.77,103.8 660.01,103.8 660.26,103.8 660.5,103.8 660.74,103.8 660.98,103.8 661.22,103.8 661.47,103.8 661.71,100.43 661.95,103.8 662.19,100.43 662.43,100.43 662.68,103.8 662.92,103.8 663.16,103.8 663.4,103.8 663.64,103.8 663.89,103.8 664.13,103.8 664.37,103.8 664.61,103.8 664.85,103.8 665.1,103.8 665.34,103.8 665.58,103.8 665.82,103.8 666.06,103.8 666.31,103.8 666.55,103.8 666.79,103.8 667.03,103.8 667.27,103.8 667.52,103.8 667.76,103.8 668,103.8" fill="none" stroke="#1f77b4" stroke-width="1.5" stroke-linejoin="round" stroke-linejoin="miter" stroke-miterlimit="3"/>
</g>
<rect x="426" y="63.7" width="242" height="40.1" fill="none" stroke="#000" stroke-width="1.07"/>
<line x1="426" y1="103.8" x2="426" y2="98.47" stroke="#000" stroke-width="1.07" />
<line x1="426" y1="63.7" x2="426" y2="69.03" stroke="#000" stroke-width="1.07" />
<line x1="474.4" y1="103.8" x2="474.4" y2="98.47" stroke="#000" stroke-width="1.07" />
<line x1="474.4" y1="63.7" x2="474.4" y2="69.03" stroke="#000" stroke-width="1.07" />
<line x1="522.8" y1="103.8" x2="522.8" y2="98.47" stroke="#000" stroke-width="1.07" />
<line x1="522.8" y1="63.7" x2="522.8" y2="69.03" stroke="#000" stroke-width="1.07" />
<line x1="571.2" y1="103.8" x2="571.2" y2="98.47" stroke="#000" stroke-width="1.07" />
<line x1="571.2" y1="63.7" x2="571.2" y2="69.03" stroke="#000" stroke-width="1.07" />
<line x1="619.6" y1="103.8" x2="619.6" y2="98.47" stroke="#000" stroke-width="1.07" />
<line x1="619.6" y1="63.7" x2="619.6" y2="69.03" stroke="#000" stroke-width="1.07" />
<line x1="668" y1="103.8" x2="668" y2="98.47" stroke="#000" stroke-width="1.07" />
<line x1="668" y1="63.7" x2="668" y2="69.03" stroke="#000" stroke-width="1.07" />
<line x1="426" y1="103.8" x2="431.33" y2="103.8" stroke="#000" stroke-width="1.07" />
<line x1="668" y1="103.8" x2="662.67" y2="103.8" stroke="#000" stroke-width="1.07" />
<line x1="426" y1="100.43" x2="429" y2="100.43" stroke="#000" stroke-width="0.8" />
<line x1="668" y1="100.43" x2="665" y2="100.43" stroke="#000" stroke-width="0.8" />
<line x1="426" y1="97.06" x2="429" y2="97.06" stroke="#000" stroke-width="0.8" />
<line x1="668" y1="97.06" x2="665" y2="97.06" stroke="#000" stroke-width="0.8" />
<line x1="426" y1="93.69" x2="429" y2="93.69" stroke="#000" stroke-width="0.8" />
<line x1="668" y1="93.69" x2="665" y2="93.69" stroke="#000" stroke-width="0.8" />
<line x1="426" y1="90.32" x2="429" y2="90.32" stroke="#000" stroke-width="0.8" />
<line x1="668" y1="90.32" x2="665" y2="90.32" stroke="#000" stroke-width="0.8" />
<line x1="426" y1="86.95" x2="429" y2="86.95" stroke="#000" stroke-width="0.8" />
<line x1="668" y1="86.95" x2="665" y2="86.95" stroke="#000" stroke-width="0.8" />
<line x1="426" y1="83.58" x2="429" y2="83.58" stroke="#000" stroke-width="0.8" />
<line x1="668" y1="83.58" x2="665" y2="83.58" stroke="#000" stroke-width="0.8" />
<line x1="426" y1="80.21" x2="429" y2="80.21" stroke="#000" stroke-width="0.8" />
<line x1="668" y1="80.21" x2="665" y2="80.21" stroke="#000" stroke-width="0.8" />
<line x1="426" y1="76.84" x2="431.33" y2="76.84" stroke="#000" stroke-width="1.07" />
<line x1="668" y1="76.84" x2="662.67" y2="76.84" stroke="#000" stroke-width="1.07" />
<line x1="426" y1="73.47" x2="429" y2="73.47" stroke="#000" stroke-width="0.8" />
<line x1="668" y1="73.47" x2="665" y2="73.47" stroke="#000" stroke-width="0.8" />
<line x1="426" y1="70.1" x2="429" y2="70.1" stroke="#000" stroke-width="0.8" />
<line x1="668" y1="70.1" x2="665" y2="70.1" stroke="#000" stroke-width="0.8" />
<line x1="426" y1="66.73" x2="429" y2="66.73" stroke="#000" stroke-width="0.8" />
<line x1="668" y1="66.73" x2="665" y2="66.73" stroke="#000" stroke-width="0.8" />
<text x="412.51" y="109.3" font-size="16">0</text>
<text x="412.51" y="82.34" font-size="16">8</text>
<path transform="translate(565.5,75.3) scale(1.0,1.0)" d="M1.6,0.6 C0.4,2.0 0.5,5.4 2.6,6.6 C4.6,7.5 7.4,6.3 8.4,4.0 C9.2,2.0 8.3,0.5 6.6,0.5 C4.9,0.5 3.9,2.8 3.5,6.0 L2.7,10.2" fill="none" stroke="#000" stroke-width="1.05" stroke-linecap="round"/>
<text x="575.33" y="84.6" font-size="11.2" font-style="italic" textLength="11.91" lengthAdjust="spacingAndGlyphs">th</text>
<line x1="589.4" y1="77.8" x2="599.6" y2="77.8" stroke="#000" stroke-width="0.8" />
<line x1="589.4" y1="81.2" x2="599.6" y2="81.2" stroke="#000" stroke-width="0.8" />
<text x="606.39" y="83.1" font-size="16">0.50</text>
<clipPath id="cb2"><rect x="426.0" y="103.8" width="242.0" height="40.05"/></clipPath>
<g clip-path="url(#cb2)">
<polyline points="426,143.85 426.24,143.85 426.48,143.85 426.73,143.85 426.97,143.85 427.21,143.85 427.45,143.85 427.69,143.85 427.94,143.85 428.18,143.85 428.42,143.85 428.66,143.85 428.9,143.85 429.15,143.85 429.39,143.85 429.63,143.85 429.87,143.85 430.11,143.85 430.36,143.85 430.6,143.85 430.84,143.85 431.08,143.85 431.32,143.85 431.57,143.85 431.81,143.85 432.05,143.85 432.29,143.85 432.53,143.85 432.78,143.85 433.02,143.85 433.26,143.85 433.5,143.85 433.74,143.85 433.99,143.85 434.23,143.85 434.47,143.85 434.71,143.85 434.95,143.85 435.2,143.85 435.44,143.85 435.68,143.85 435.92,143.85 436.16,143.85 436.41,143.85 436.65,143.85 436.89,143.85 437.13,143.85 437.37,143.85 437.62,143.85 437.86,143.85 438.1,143.85 438.34,143.85 438.58,137.51 438.83,143.85 439.07,137.51 439.31,137.51 439.55,143.85 439.79,143.85 440.04,137.51 440.28,143.85 440.52,143.85 440.76,143.85 441,143.85 441.25,143.85 441.49,143.85 441.73,143.85 441.97,143.85 442.21,143.85 442.46,143.85 442.7,143.85 442.94,137.51 443.18,137.51 443.42,143.85 443.67,137.51 443.91,143.85 444.15,143.85 444.39,137.51 444.63,137.51 444.88,143.85 445.12,143.85 445.36,143.85 445.6,143.85 445.84,143.85 446.09,143.85 446.33,143.85 446.57,143.85 446.81,143.85 447.05,143.85 447.3,143.85 447.54,143.85 447.78,143.85 448.02,143.85 448.26,143.85 448.51,143.85 448.75,143.85 448.99,143.85 449.23,143.85 449.47,143.85 449.72,143.85 449.96,143.85 450.2,143.85 450.44,143.85 450.68,143.85 450.93,143.85 451.17,143.85 451.41,143.85 451.65,143.85 451.89,143.85 452.14,143.85 452.38,143.85 452.62,143.85 452.86,143.85 453.1,143.85 453.35,143.85 453.59,143.85 453.83,143.85 454.07,143.85 454.31,143.85 454.56,143.85 454.8,143.85 455.04,143.85 455.28,143.85 455.52,143.85 455.77,143.85 456.01,143.85 456.25,143.85 456.49,143.85 456.73,143.85 456.98,143.85 457.22,143.85 457.46,143.85 457.7,143.85 457.94,143.85 458.19,143.85 458.43,143.85 458.67,143.85 458.91,143.85 459.15,143.85 459.4,143.85 459.64,143.85 459.88,143.85 460.12,143.85 460.36,143.85 460.61,143.85 460.85,143.85 461.09,143.85 461.33,143.85 461.57,143.85 461.82,143.85 462.06,143.85 462.3,143.85 462.54,143.85 462.78,143.85 463.03,143.85 463.27,143.85 463.51,143.85 463.75,143.85 463.99,143.85 464.24,143.85 464.48,143.85 464.72,143.85 464.96,143.85 465.2,143.85 465.45,143.85 465.69,143.85 465.93,143.85 466.17,143.85 466.41,143.85 466.66,143.85 466.9,143.85 467.14,143.85 467.38,143.85 467.62,143.85 467.87,143.85 468.11,143.85 468.35,143.85 468.59,143.85 468.83,143.85 469.08,143.85 469.32,143.85 469.56,143.85 469.8,143.85 470.04,143.85 470.29,143.85 470.53,143.85 470.77,143.85 471.01,143.85 471.25,143.85 471.5,143.85 471.74,143.85 471.98,143.85 472.22,143.85 472.46,143.85 472.71,143.85 472.95,143.85 473.19,143.85 473.43,143.85 473.67,143.85 473.92,143.85 474.16,143.85 474.4,143.85 474.64,137.51 474.88,137.51 475.13,143.85 475.37,143.85 475.61,137.51 475.85,143.85 476.09,143.85 476.34,137.51 476.58,137.51 476.82,143.85 477.06,143.85 477.3,137.51 477.55,143.85 477.79,143.85 478.03,143.85 478.27,131.18 478.51,131.18 478.76,143.85 479,143.85 479.24,131.18 479.48,143.85 479.72,143.85 479.97,131.18 480.21,131.18 480.45,143.85 480.69,143.85 480.93,143.85 481.18,143.85 481.42,143.85 481.66,143.85 481.9,143.85 482.14,143.85 482.39,143.85 482.63,143.85 482.87,143.85 483.11,143.85 483.35,143.85 483.6,143.85 483.84,143.85 484.08,143.85 484.32,143.85 484.56,143.85 484.81,143.85 485.05,143.85 485.29,143.85 485.53,143.85 485.77,143.85 486.02,143.85 486.26,143.85 486.5,143.85 486.74,143.85 486.98,143.85 487.23,143.85 487.47,143.85 487.71,143.85 487.95,143.85 488.19,143.85 488.44,143.85 488.68,143.85 488.92,143.85 489.16,143.85 489.4,143.85 489.65,143.85 489.89,137.51 490.13,143.85 490.37,143.85 490.61,137.51 490.86,137.51 491.1,143.85 491.34,137.51 491.58,137.51 491.82,143.85 492.07,137.51 492.31,143.85 492.55,137.51 492.79,137.51 493.03,143.85 493.28,137.51 493.52,143.85 493.76,143.85 494,137.51 494.24,137.51 494.49,143.85 494.73,137.51 494.97,143.85 495.21,143.85 495.45,131.18 495.7,131.18 495.94,131.18 496.18,143.85 496.42,118.5 496.66,118.5 496.91,118.5 497.15,118.5 497.39,137.51 497.63,143.85 497.87,143.85 498.12,137.51 498.36,143.85 498.6,137.51 498.84,137.51 499.08,143.85 499.33,143.85 499.57,143.85 499.81,143.85 500.05,143.85 500.29,143.85 500.54,143.85 500.78,143.85 501.02,143.85 501.26,143.85 501.5,143.85 501.75,143.85 501.99,143.85 502.23,143.85 502.47,143.85 502.71,143.85 502.96,143.85 503.2,143.85 503.44,143.85 503.68,143.85 503.92,143.85 504.17,143.85 504.41,143.85 504.65,137.51 504.89,143.85 505.13,137.51 505.38,143.85 505.62,143.85 505.86,137.51 506.1,137.51 506.34,143.85 506.59,143.85 506.83,143.85 507.07,143.85 507.31,143.85 507.55,143.85 507.8,143.85 508.04,143.85 508.28,143.85 508.52,143.85 508.76,143.85 509.01,143.85 509.25,143.85 509.49,143.85 509.73,143.85 509.97,143.85 510.22,143.85 510.46,143.85 510.7,143.85 510.94,143.85 511.18,143.85 511.43,143.85 511.67,143.85 511.91,143.85 512.15,143.85 512.39,143.85 512.64,143.85 512.88,143.85 513.12,143.85 513.36,143.85 513.6,143.85 513.85,143.85 514.09,143.85 514.33,143.85 514.57,143.85 514.81,143.85 515.06,143.85 515.3,143.85 515.54,143.85 515.78,143.85 516.02,143.85 516.27,143.85 516.51,143.85 516.75,143.85 516.99,143.85 517.23,143.85 517.48,143.85 517.72,143.85 517.96,143.85 518.2,143.85 518.44,143.85 518.69,143.85 518.93,143.85 519.17,143.85 519.41,143.85 519.65,143.85 519.9,143.85 520.14,143.85 520.38,143.85 520.62,143.85 520.86,143.85 521.11,143.85 521.35,143.85 521.59,143.85 521.83,143.85 522.07,143.85 522.32,143.85 522.56,143.85 522.8,143.85 523.04,143.85 523.28,143.85 523.53,143.85 523.77,143.85 524.01,143.85 524.25,143.85 524.49,143.85 524.74,143.85 524.98,143.85 525.22,143.85 525.46,143.85 525.7,143.85 525.95,143.85 526.19,143.85 526.43,143.85 526.67,143.85 526.91,143.85 527.16,143.85 527.4,143.85 527.64,143.85 527.88,143.85 528.12,143.85 528.37,143.85 528.61,143.85 528.85,143.85 529.09,143.85 529.33,143.85 529.58,143.85 529.82,143.85 530.06,143.85 530.3,143.85 530.54,143.85 530.79,143.85 531.03,143.85 531.27,143.85 531.51,143.85 531.75,143.85 532,143.85 532.24,143.85 532.48,143.85 532.72,143.85 532.96,143.85 533.21,143.85 533.45,143.85 533.69,143.85 533.93,143.85 534.17,143.85 534.42,143.85 534.66,143.85 534.9,143.85 535.14,143.85 535.38,143.85 535.63,143.85 535.87,143.85 536.11,137.51 536.35,137.51 536.59,143.85 536.84,137.51 537.08,137.51 537.32,143.85 537.56,143.85 537.8,137.51 538.05,137.51 538.29,143.85 538.53,131.18 538.77,131.18 539.01,143.85 539.26,143.85 539.5,143.85 539.74,143.85 539.98,137.51 540.22,143.85 540.47,137.51 540.71,137.51 540.95,143.85 541.19,143.85 541.43,143.85 541.68,131.18 541.92,131.18 542.16,143.85 542.4,143.85 542.64,124.84 542.89,124.84 543.13,143.85 543.37,143.85 543.61,124.84 543.85,143.85 544.1,137.51 544.34,143.85 544.58,143.85 544.82,137.51 545.06,143.85 545.31,143.85 545.55,137.51 545.79,137.51 546.03,143.85 546.27,137.51 546.52,137.51 546.76,143.85 547,131.18 547.24,131.18 547.48,131.18 547.73,131.18 547.97,143.85 548.21,143.85 548.45,143.85 548.69,112.16 548.94,112.16 549.18,112.16 549.42,143.85 549.66,143.85 549.9,105.83 550.15,105.83 550.39,143.85 550.63,143.85 550.87,105.83 551.11,143.85 551.36,143.85 551.6,137.51 551.84,137.51 552.08,137.51 552.32,137.51 552.57,143.85 552.81,143.85 553.05,143.85 553.29,137.51 553.53,137.51 553.78,143.85 554.02,143.85 554.26,137.51 554.5,143.85 554.74,143.85 554.99,137.51 555.23,143.85 555.47,143.85 555.71,137.51 555.95,137.51 556.2,143.85 556.44,143.85 556.68,143.85 556.92,143.85 557.16,143.85 557.41,143.85 557.65,143.85 557.89,143.85 558.13,143.85 558.37,143.85 558.62,143.85 558.86,143.85 559.1,143.85 559.34,143.85 559.58,143.85 559.83,143.85 560.07,143.85 560.31,143.85 560.55,143.85 560.79,143.85 561.04,143.85 561.28,143.85 561.52,137.51 561.76,137.51 562,137.51 562.25,137.51 562.49,143.85 562.73,143.85 562.97,143.85 563.21,143.85 563.46,137.51 563.7,137.51 563.94,137.51 564.18,137.51 564.42,143.85 564.67,143.85 564.91,143.85 565.15,143.85 565.39,137.51 565.63,137.51 565.88,143.85 566.12,137.51 566.36,143.85 566.6,143.85 566.84,143.85 567.09,143.85 567.33,143.85 567.57,143.85 567.81,143.85 568.05,137.51 568.3,137.51 568.54,137.51 568.78,137.51 569.02,143.85 569.26,143.85 569.51,143.85 569.75,143.85 569.99,143.85 570.23,143.85 570.47,143.85 570.72,143.85 570.96,143.85 571.2,143.85 571.44,143.85 571.68,143.85 571.93,143.85 572.17,143.85 572.41,143.85 572.65,143.85 572.89,143.85 573.14,143.85 573.38,143.85 573.62,143.85 573.86,143.85 574.1,143.85 574.35,143.85 574.59,143.85 574.83,143.85 575.07,143.85 575.31,143.85 575.56,143.85 575.8,143.85 576.04,143.85 576.28,143.85 576.52,143.85 576.77,143.85 577.01,143.85 577.25,143.85 577.49,143.85 577.73,143.85 577.98,143.85 578.22,143.85 578.46,143.85 578.7,143.85 578.94,143.85 579.19,143.85 579.43,143.85 579.67,143.85 579.91,143.85 580.15,143.85 580.4,143.85 580.64,143.85 580.88,143.85 581.12,143.85 581.36,143.85 581.61,143.85 581.85,143.85 582.09,143.85 582.33,143.85 582.57,137.51 582.82,137.51 583.06,137.51 583.3,137.51 583.54,143.85 583.78,143.85 584.03,143.85 584.27,143.85 584.51,143.85 584.75,143.85 584.99,143.85 585.24,143.85 585.48,143.85 585.72,143.85 585.96,143.85 586.2,143.85 586.45,143.85 586.69,143.85 586.93,143.85 587.17,143.85 587.41,143.85 587.66,143.85 587.9,143.85 588.14,143.85 588.38,143.85 588.62,143.85 588.87,143.85 589.11,143.85 589.35,143.85 589.59,143.85 589.83,143.85 590.08,143.85 590.32,143.85 590.56,143.85 590.8,143.85 591.04,143.85 591.29,143.85 591.53,143.85 591.77,143.85 592.01,143.85 592.25,143.85 592.5,143.85 592.74,143.85 592.98,143.85 593.22,143.85 593.46,143.85 593.71,143.85 593.95,143.85 594.19,143.85 594.43,143.85 594.67,143.85 594.92,143.85 595.16,143.85 595.4,143.85 595.64,143.85 595.88,143.85 596.13,143.85 596.37,143.85 596.61,143.85 596.85,143.85 597.09,143.85 597.34,143.85 597.58,143.85 597.82,143.85 598.06,143.85 598.3,143.85 598.55,143.85 598.79,143.85 599.03,143.85 599.27,143.85 599.51,143.85 599.76,143.85 600,143.85 600.24,143.85 600.48,143.85 600.72,143.85 600.97,143.85 601.21,143.85 601.45,143.85 601.69,143.85 601.93,143.85 602.18,143.85 602.42,143.85 602.66,143.85 602.9,143.85 603.14,143.85 603.39,143.85 603.63,143.85 603.87,143.85 604.11,143.85 604.35,143.85 604.6,143.85 604.84,143.85 605.08,143.85 605.32,143.85 605.56,143.85 605.81,143.85 606.05,143.85 606.29,143.85 606.53,143.85 606.77,143.85 607.02,143.85 607.26,143.85 607.5,143.85 607.74,143.85 607.98,143.85 608.23,143.85 608.47,143.85 608.71,143.85 608.95,143.85 609.19,143.85 609.44,143.85 609.68,143.85 609.92,143.85 610.16,143.85 610.4,143.85 610.65,143.85 610.89,143.85 611.13,143.85 611.37,143.85 611.61,143.85 611.86,143.85 612.1,143.85 612.34,143.85 612.58,143.85 612.82,143.85 613.07,137.51 613.31,137.51 613.55,137.51 613.79,137.51 614.03,143.85 614.28,143.85 614.52,143.85 614.76,143.85 615,143.85 615.24,143.85 615.49,143.85 615.73,137.51 615.97,137.51 616.21,143.85 616.45,143.85 616.7,137.51 616.94,143.85 617.18,143.85 617.42,143.85 617.66,143.85 617.91,143.85 618.15,143.85 618.39,143.85 618.63,143.85 618.87,143.85 619.12,143.85 619.36,143.85 619.6,143.85 619.84,143.85 620.08,143.85 620.33,143.85 620.57,143.85 620.81,143.85 621.05,143.85 621.29,143.85 621.54,143.85 621.78,143.85 622.02,143.85 622.26,143.85 622.5,143.85 622.75,143.85 622.99,143.85 623.23,143.85 623.47,143.85 623.71,143.85 623.96,143.85 624.2,143.85 624.44,143.85 624.68,143.85 624.92,143.85 625.17,143.85 625.41,143.85 625.65,143.85 625.89,143.85 626.13,143.85 626.38,143.85 626.62,143.85 626.86,143.85 627.1,143.85 627.34,143.85 627.59,137.51 627.83,143.85 628.07,143.85 628.31,137.51 628.55,143.85 628.8,137.51 629.04,143.85 629.28,137.51 629.52,143.85 629.76,143.85 630.01,137.51 630.25,137.51 630.49,143.85 630.73,143.85 630.97,143.85 631.22,143.85 631.46,143.85 631.7,143.85 631.94,143.85 632.18,143.85 632.43,143.85 632.67,143.85 632.91,143.85 633.15,143.85 633.39,143.85 633.64,143.85 633.88,143.85 634.12,143.85 634.36,143.85 634.6,143.85 634.85,143.85 635.09,143.85 635.33,143.85 635.57,143.85 635.81,143.85 636.06,143.85 636.3,143.85 636.54,143.85 636.78,143.85 637.02,143.85 637.27,143.85 637.51,143.85 637.75,143.85 637.99,143.85 638.23,143.85 638.48,143.85 638.72,143.85 638.96,143.85 639.2,143.85 639.44,143.85 639.69,143.85 639.93,143.85 640.17,143.85 640.41,143.85 640.65,143.85 640.9,143.85 641.14,143.85 641.38,143.85 641.62,143.85 641.86,143.85 642.11,143.85 642.35,143.85 642.59,143.85 642.83,143.85 643.07,143.85 643.32,143.85 643.56,143.85 643.8,143.85 644.04,143.85 644.28,143.85 644.53,143.85 644.77,143.85 645.01,143.85 645.25,143.85 645.49,143.85 645.74,143.85 645.98,131.18 646.22,131.18 646.46,131.18 646.7,131.18 646.95,143.85 647.19,112.16 647.43,112.16 647.67,112.16 647.91,112.16 648.16,143.85 648.4,131.18 648.64,143.85 648.88,124.84 649.12,124.84 649.37,143.85 649.61,131.18 649.85,143.85 650.09,131.18 650.33,143.85 650.58,131.18 650.82,131.18 651.06,143.85 651.3,137.51 651.54,143.85 651.79,143.85 652.03,143.85 652.27,143.85 652.51,143.85 652.75,143.85 653,143.85 653.24,143.85 653.48,143.85 653.72,143.85 653.96,143.85 654.21,143.85 654.45,143.85 654.69,143.85 654.93,143.85 655.17,143.85 655.42,143.85 655.66,143.85 655.9,143.85 656.14,143.85 656.38,143.85 656.63,143.85 656.87,143.85 657.11,143.85 657.35,143.85 657.59,143.85 657.84,143.85 658.08,143.85 658.32,143.85 658.56,143.85 658.8,143.85 659.05,143.85 659.29,143.85 659.53,143.85 659.77,143.85 660.01,143.85 660.26,143.85 660.5,143.85 660.74,143.85 660.98,143.85 661.22,143.85 661.47,143.85 661.71,143.85 661.95,143.85 662.19,143.85 662.43,143.85 662.68,143.85 662.92,143.85 663.16,143.85 663.4,143.85 663.64,143.85 663.89,143.85 664.13,143.85 664.37,143.85 664.61,143.85 664.85,143.85 665.1,143.85 665.34,143.85 665.58,143.85 665.82,143.85 666.06,143.85 666.31,143.85 666.55,143.85 666.79,143.85 667.03,143.85 667.27,143.85 667.52,143.85 667.76,143.85 668,143.85" fill="none" stroke="#1f77b4" stroke-width="1.5" stroke-linejoin="round" stroke-linejoin="miter" stroke-miterlimit="3"/>
</g>
<rect x="426" y="103.8" width="242" height="40.05" fill="none" stroke="#000" stroke-width="1.07"/>
<line x1="426" y1="143.85" x2="426" y2="138.52" stroke="#000" stroke-width="1.07" />
<line x1="426" y1="103.8" x2="426" y2="109.13" stroke="#000" stroke-width="1.07" />
<line x1="474.4" y1="143.85" x2="474.4" y2="138.52" stroke="#000" stroke-width="1.07" />
<line x1="474.4" y1="103.8" x2="474.4" y2="109.13" stroke="#000" stroke-width="1.07" />
<line x1="522.8" y1="143.85" x2="522.8" y2="138.52" stroke="#000" stroke-width="1.07" />
<line x1="522.8" y1="103.8" x2="522.8" y2="109.13" stroke="#000" stroke-width="1.07" />
<line x1="571.2" y1="143.85" x2="571.2" y2="138.52" stroke="#000" stroke-width="1.07" />
<line x1="571.2" y1="103.8" x2="571.2" y2="109.13" stroke="#000" stroke-width="1.07" />
<line x1="619.6" y1="143.85" x2="619.6" y2="138.52" stroke="#000" stroke-width="1.07" />
<line x1="619.6" y1="103.8" x2="619.6" y2="109.13" stroke="#000" stroke-width="1.07" />
<line x1="668" y1="143.85" x2="668" y2="138.52" stroke="#000" stroke-width="1.07" />
<line x1="668" y1="103.8" x2="668" y2="109.13" stroke="#000" stroke-width="1.07" />
<line x1="426" y1="143.85" x2="431.33" y2="143.85" stroke="#000" stroke-width="1.07" />
<line x1="668" y1="143.85" x2="662.67" y2="143.85" stroke="#000" stroke-width="1.07" />
<line x1="426" y1="137.51" x2="429" y2="137.51" stroke="#000" stroke-width="0.8" />
<line x1="668" y1="137.51" x2="665" y2="137.51" stroke="#000" stroke-width="0.8" />
<line x1="426" y1="131.18" x2="429" y2="131.18" stroke="#000" stroke-width="0.8" />
<line x1="668" y1="131.18" x2="665" y2="131.18" stroke="#000" stroke-width="0.8" />
<line x1="426" y1="124.84" x2="429" y2="124.84" stroke="#000" stroke-width="0.8" />
<line x1="668" y1="124.84" x2="665" y2="124.84" stroke="#000" stroke-width="0.8" />
<line x1="426" y1="118.5" x2="431.33" y2="118.5" stroke="#000" stroke-width="1.07" />
<line x1="668" y1="118.5" x2="662.67" y2="118.5" stroke="#000" stroke-width="1.07" />
<line x1="426" y1="112.16" x2="429" y2="112.16" stroke="#000" stroke-width="0.8" />
<line x1="668" y1="112.16" x2="665" y2="112.16" stroke="#000" stroke-width="0.8" />
<line x1="426" y1="105.83" x2="429" y2="105.83" stroke="#000" stroke-width="0.8" />
<line x1="668" y1="105.83" x2="665" y2="105.83" stroke="#000" stroke-width="0.8" />
<text x="412.51" y="149.35" font-size="16">0</text>
<text x="412.15" y="124" font-size="16">4</text>
<path transform="translate(565.5,115.3) scale(1.0,1.0)" d="M1.6,0.6 C0.4,2.0 0.5,5.4 2.6,6.6 C4.6,7.5 7.4,6.3 8.4,4.0 C9.2,2.0 8.3,0.5 6.6,0.5 C4.9,0.5 3.9,2.8 3.5,6.0 L2.7,10.2" fill="none" stroke="#000" stroke-width="1.05" stroke-linecap="round"/>
<text x="575.33" y="124.6" font-size="11.2" font-style="italic" textLength="11.91" lengthAdjust="spacingAndGlyphs">th</text>
<line x1="589.4" y1="117.8" x2="599.6" y2="117.8" stroke="#000" stroke-width="0.8" />
<line x1="589.4" y1="121.2" x2="599.6" y2="121.2" stroke="#000" stroke-width="0.8" />
<text x="606.39" y="123.1" font-size="16">0.75</text>
<clipPath id="cb3"><rect x="426.0" y="143.85" width="242.0" height="40.05000000000001"/></clipPath>
<g clip-path="url(#cb3)">
<polyline points="426,183.9 426.24,183.9 426.48,183.9 426.73,183.9 426.97,183.9 427.21,183.9 427.45,183.9 427.69,183.9 427.94,183.9 428.18,183.9 428.42,183.9 428.66,183.9 428.9,183.9 429.15,183.9 429.39,183.9 429.63,183.9 429.87,183.9 430.11,183.9 430.36,183.9 430.6,183.9 430.84,183.9 431.08,183.9 431.32,183.9 431.57,183.9 431.81,183.9 432.05,183.9 432.29,183.9 432.53,183.9 432.78,183.9 433.02,183.9 433.26,183.9 433.5,183.9 433.74,183.9 433.99,183.9 434.23,183.9 434.47,183.9 434.71,183.9 434.95,183.9 435.2,183.9 435.44,183.9 435.68,183.9 435.92,183.9 436.16,183.9 436.41,183.9 436.65,183.9 436.89,183.9 437.13,183.9 437.37,183.9 437.62,183.9 437.86,183.9 438.1,183.9 438.34,183.9 438.58,176.36 438.83,183.9 439.07,176.36 439.31,176.36 439.55,183.9 439.79,176.36 440.04,183.9 440.28,176.36 440.52,183.9 440.76,183.9 441,183.9 441.25,183.9 441.49,183.9 441.73,183.9 441.97,183.9 442.21,183.9 442.46,183.9 442.7,183.9 442.94,176.36 443.18,176.36 443.42,183.9 443.67,183.9 443.91,176.36 444.15,183.9 444.39,183.9 444.63,176.36 444.88,183.9 445.12,183.9 445.36,183.9 445.6,183.9 445.84,183.9 446.09,183.9 446.33,183.9 446.57,183.9 446.81,183.9 447.05,183.9 447.3,183.9 447.54,183.9 447.78,183.9 448.02,183.9 448.26,183.9 448.51,183.9 448.75,183.9 448.99,183.9 449.23,183.9 449.47,183.9 449.72,183.9 449.96,183.9 450.2,183.9 450.44,183.9 450.68,183.9 450.93,183.9 451.17,183.9 451.41,183.9 451.65,183.9 451.89,183.9 452.14,183.9 452.38,183.9 452.62,183.9 452.86,183.9 453.1,183.9 453.35,183.9 453.59,183.9 453.83,183.9 454.07,183.9 454.31,183.9 454.56,183.9 454.8,183.9 455.04,183.9 455.28,183.9 455.52,183.9 455.77,183.9 456.01,183.9 456.25,183.9 456.49,183.9 456.73,183.9 456.98,183.9 457.22,183.9 457.46,183.9 457.7,183.9 457.94,183.9 458.19,183.9 458.43,183.9 458.67,183.9 458.91,183.9 459.15,183.9 459.4,183.9 459.64,183.9 459.88,183.9 460.12,183.9 460.36,183.9 460.61,183.9 460.85,183.9 461.09,183.9 461.33,183.9 461.57,183.9 461.82,183.9 462.06,183.9 462.3,183.9 462.54,183.9 462.78,183.9 463.03,183.9 463.27,183.9 463.51,183.9 463.75,183.9 463.99,183.9 464.24,183.9 464.48,183.9 464.72,183.9 464.96,183.9 465.2,183.9 465.45,183.9 465.69,183.9 465.93,183.9 466.17,183.9 466.41,183.9 466.66,183.9 466.9,183.9 467.14,183.9 467.38,183.9 467.62,183.9 467.87,183.9 468.11,183.9 468.35,183.9 468.59,183.9 468.83,183.9 469.08,183.9 469.32,183.9 469.56,183.9 469.8,183.9 470.04,183.9 470.29,183.9 470.53,183.9 470.77,183.9 471.01,183.9 471.25,183.9 471.5,183.9 471.74,183.9 471.98,183.9 472.22,183.9 472.46,183.9 472.71,183.9 472.95,183.9 473.19,183.9 473.43,183.9 473.67,183.9 473.92,183.9 474.16,183.9 474.4,183.9 474.64,183.9 474.88,183.9 475.13,183.9 475.37,183.9 475.61,176.36 475.85,176.36 476.09,176.36 476.34,176.36 476.58,183.9 476.82,183.9 477.06,183.9 477.3,183.9 477.55,183.9 477.79,183.9 478.03,176.36 478.27,176.36 478.51,183.9 478.76,183.9 479,176.36 479.24,183.9 479.48,183.9 479.72,183.9 479.97,183.9 480.21,183.9 480.45,183.9 480.69,183.9 480.93,183.9 481.18,183.9 481.42,183.9 481.66,183.9 481.9,183.9 482.14,183.9 482.39,183.9 482.63,183.9 482.87,183.9 483.11,183.9 483.35,183.9 483.6,183.9 483.84,183.9 484.08,183.9 484.32,183.9 484.56,183.9 484.81,183.9 485.05,183.9 485.29,183.9 485.53,183.9 485.77,183.9 486.02,183.9 486.26,183.9 486.5,183.9 486.74,183.9 486.98,183.9 487.23,183.9 487.47,183.9 487.71,183.9 487.95,183.9 488.19,183.9 488.44,183.9 488.68,183.9 488.92,183.9 489.16,183.9 489.4,183.9 489.65,183.9 489.89,176.36 490.13,176.36 490.37,183.9 490.61,176.36 490.86,183.9 491.1,183.9 491.34,176.36 491.58,176.36 491.82,168.82 492.07,168.82 492.31,168.82 492.55,183.9 492.79,176.36 493.03,176.36 493.28,183.9 493.52,183.9 493.76,176.36 494,176.36 494.24,183.9 494.49,183.9 494.73,176.36 494.97,176.36 495.21,183.9 495.45,176.36 495.7,183.9 495.94,183.9 496.18,183.9 496.42,153.73 496.66,153.73 496.91,153.73 497.15,183.9 497.39,176.36 497.63,176.36 497.87,183.9 498.12,183.9 498.36,176.36 498.6,183.9 498.84,183.9 499.08,176.36 499.33,183.9 499.57,183.9 499.81,183.9 500.05,183.9 500.29,183.9 500.54,183.9 500.78,183.9 501.02,183.9 501.26,183.9 501.5,183.9 501.75,183.9 501.99,183.9 502.23,183.9 502.47,183.9 502.71,183.9 502.96,183.9 503.2,183.9 503.44,183.9 503.68,183.9 503.92,183.9 504.17,183.9 504.41,183.9 504.65,176.36 504.89,183.9 505.13,183.9 505.38,176.36 505.62,176.36 505.86,183.9 506.1,176.36 506.34,176.36 506.59,183.9 506.83,183.9 507.07,183.9 507.31,183.9 507.55,183.9 507.8,183.9 508.04,183.9 508.28,183.9 508.52,183.9 508.76,183.9 509.01,183.9 509.25,183.9 509.49,183.9 509.73,183.9 509.97,183.9 510.22,183.9 510.46,183.9 510.7,183.9 510.94,183.9 511.18,183.9 511.43,183.9 511.67,183.9 511.91,183.9 512.15,183.9 512.39,183.9 512.64,183.9 512.88,183.9 513.12,183.9 513.36,183.9 513.6,183.9 513.85,183.9 514.09,183.9 514.33,183.9 514.57,183.9 514.81,183.9 515.06,183.9 515.3,183.9 515.54,183.9 515.78,183.9 516.02,183.9 516.27,183.9 516.51,183.9 516.75,183.9 516.99,183.9 517.23,183.9 517.48,183.9 517.72,183.9 517.96,183.9 518.2,183.9 518.44,183.9 518.69,183.9 518.93,183.9 519.17,183.9 519.41,183.9 519.65,183.9 519.9,183.9 520.14,183.9 520.38,183.9 520.62,183.9 520.86,183.9 521.11,183.9 521.35,183.9 521.59,183.9 521.83,183.9 522.07,183.9 522.32,183.9 522.56,183.9 522.8,183.9 523.04,183.9 523.28,183.9 523.53,183.9 523.77,183.9 524.01,183.9 524.25,183.9 524.49,183.9 524.74,183.9 524.98,183.9 525.22,183.9 525.46,183.9 525.7,183.9 525.95,183.9 526.19,183.9 526.43,183.9 526.67,183.9 526.91,183.9 527.16,183.9 527.4,183.9 527.64,183.9 527.88,183.9 528.12,183.9 528.37,183.9 528.61,183.9 528.85,183.9 529.09,183.9 529.33,183.9 529.58,183.9 529.82,183.9 530.06,183.9 530.3,183.9 530.54,183.9 530.79,183.9 531.03,183.9 531.27,183.9 531.51,183.9 531.75,183.9 532,183.9 532.24,183.9 532.48,183.9 532.72,183.9 532.96,183.9 533.21,183.9 533.45,183.9 533.69,183.9 533.93,183.9 534.17,183.9 534.42,183.9 534.66,183.9 534.9,183.9 535.14,183.9 535.38,183.9 535.63,183.9 535.87,183.9 536.11,176.36 536.35,183.9 536.59,176.36 536.84,183.9 537.08,183.9 537.32,176.36 537.56,183.9 537.8,183.9 538.05,176.36 538.29,183.9 538.53,168.82 538.77,168.82 539.01,168.82 539.26,168.82 539.5,183.9 539.74,183.9 539.98,176.36 540.22,176.36 540.47,183.9 540.71,176.36 540.95,176.36 541.19,183.9 541.43,176.36 541.68,183.9 541.92,168.82 542.16,168.82 542.4,183.9 542.64,183.9 542.89,176.36 543.13,183.9 543.37,183.9 543.61,176.36 543.85,176.36 544.1,183.9 544.34,183.9 544.58,168.82 544.82,183.9 545.06,183.9 545.31,168.82 545.55,168.82 545.79,183.9 546.03,176.36 546.27,183.9 546.52,176.36 546.76,183.9 547,176.36 547.24,176.36 547.48,183.9 547.73,183.9 547.97,168.82 548.21,168.82 548.45,168.82 548.69,168.82 548.94,183.9 549.18,153.73 549.42,153.73 549.66,153.73 549.9,183.9 550.15,161.27 550.39,161.27 550.63,161.27 550.87,161.27 551.11,176.36 551.36,183.9 551.6,176.36 551.84,183.9 552.08,183.9 552.32,176.36 552.57,183.9 552.81,183.9 553.05,183.9 553.29,176.36 553.53,183.9 553.78,176.36 554.02,183.9 554.26,183.9 554.5,176.36 554.74,176.36 554.99,183.9 555.23,183.9 555.47,183.9 555.71,183.9 555.95,183.9 556.2,183.9 556.44,183.9 556.68,183.9 556.92,183.9 557.16,183.9 557.41,183.9 557.65,183.9 557.89,183.9 558.13,183.9 558.37,183.9 558.62,183.9 558.86,183.9 559.1,183.9 559.34,183.9 559.58,183.9 559.83,183.9 560.07,183.9 560.31,183.9 560.55,183.9 560.79,183.9 561.04,183.9 561.28,183.9 561.52,176.36 561.76,183.9 562,183.9 562.25,176.36 562.49,176.36 562.73,183.9 562.97,183.9 563.21,176.36 563.46,183.9 563.7,183.9 563.94,183.9 564.18,183.9 564.42,183.9 564.67,183.9 564.91,183.9 565.15,183.9 565.39,183.9 565.63,183.9 565.88,183.9 566.12,183.9 566.36,183.9 566.6,183.9 566.84,183.9 567.09,183.9 567.33,183.9 567.57,176.36 567.81,176.36 568.05,176.36 568.3,176.36 568.54,183.9 568.78,183.9 569.02,183.9 569.26,183.9 569.51,183.9 569.75,183.9 569.99,183.9 570.23,183.9 570.47,183.9 570.72,183.9 570.96,183.9 571.2,183.9 571.44,183.9 571.68,183.9 571.93,183.9 572.17,183.9 572.41,183.9 572.65,183.9 572.89,183.9 573.14,183.9 573.38,183.9 573.62,183.9 573.86,183.9 574.1,183.9 574.35,183.9 574.59,183.9 574.83,183.9 575.07,183.9 575.31,183.9 575.56,183.9 575.8,183.9 576.04,183.9 576.28,183.9 576.52,183.9 576.77,183.9 577.01,183.9 577.25,183.9 577.49,183.9 577.73,183.9 577.98,183.9 578.22,183.9 578.46,183.9 578.7,183.9 578.94,183.9 579.19,183.9 579.43,183.9 579.67,183.9 579.91,183.9 580.15,183.9 580.4,183.9 580.64,183.9 580.88,183.9 581.12,183.9 581.36,183.9 581.61,183.9 581.85,183.9 582.09,183.9 582.33,183.9 582.57,183.9 582.82,183.9 583.06,183.9 583.3,183.9 583.54,183.9 583.78,183.9 584.03,183.9 584.27,183.9 584.51,183.9 584.75,183.9 584.99,183.9 585.24,183.9 585.48,183.9 585.72,183.9 585.96,183.9 586.2,183.9 586.45,183.9 586.69,183.9 586.93,183.9 587.17,183.9 587.41,183.9 587.66,183.9 587.9,183.9 588.14,183.9 588.38,183.9 588.62,183.9 588.87,183.9 589.11,183.9 589.35,183.9 589.59,183.9 589.83,183.9 590.08,183.9 590.32,183.9 590.56,183.9 590.8,183.9 591.04,183.9 591.29,183.9 591.53,183.9 591.77,183.9 592.01,183.9 592.25,183.9 592.5,183.9 592.74,183.9 592.98,183.9 593.22,183.9 593.46,183.9 593.71,183.9 593.95,183.9 594.19,183.9 594.43,183.9 594.67,183.9 594.92,183.9 595.16,183.9 595.4,183.9 595.64,183.9 595.88,183.9 596.13,183.9 596.37,183.9 596.61,183.9 596.85,183.9 597.09,183.9 597.34,183.9 597.58,183.9 597.82,183.9 598.06,183.9 598.3,183.9 598.55,183.9 598.79,183.9 599.03,183.9 599.27,183.9 599.51,183.9 599.76,183.9 600,183.9 600.24,183.9 600.48,183.9 600.72,183.9 600.97,183.9 601.21,183.9 601.45,183.9 601.69,183.9 601.93,183.9 602.18,183.9 602.42,183.9 602.66,183.9 602.9,183.9 603.14,183.9 603.39,183.9 603.63,183.9 603.87,183.9 604.11,183.9 604.35,183.9 604.6,183.9 604.84,183.9 605.08,183.9 605.32,183.9 605.56,183.9 605.81,183.9 606.05,183.9 606.29,183.9 606.53,183.9 606.77,183.9 607.02,183.9 607.26,183.9 607.5,183.9 607.74,183.9 607.98,183.9 608.23,183.9 608.47,183.9 608.71,183.9 608.95,183.9 609.19,183.9 609.44,183.9 609.68,183.9 609.92,183.9 610.16,183.9 610.4,183.9 610.65,183.9 610.89,183.9 611.13,183.9 611.37,183.9 611.61,183.9 611.86,183.9 612.1,183.9 612.34,183.9 612.58,183.9 612.82,183.9 613.07,176.36 613.31,176.36 613.55,176.36 613.79,176.36 614.03,183.9 614.28,183.9 614.52,183.9 614.76,183.9 615,183.9 615.24,183.9 615.49,183.9 615.73,183.9 615.97,183.9 616.21,183.9 616.45,183.9 616.7,183.9 616.94,183.9 617.18,183.9 617.42,183.9 617.66,183.9 617.91,183.9 618.15,183.9 618.39,183.9 618.63,183.9 618.87,183.9 619.12,183.9 619.36,183.9 619.6,183.9 619.84,183.9 620.08,183.9 620.33,183.9 620.57,183.9 620.81,183.9 621.05,183.9 621.29,183.9 621.54,183.9 621.78,183.9 622.02,183.9 622.26,183.9 622.5,183.9 622.75,183.9 622.99,183.9 623.23,183.9 623.47,183.9 623.71,183.9 623.96,183.9 624.2,183.9 624.44,183.9 624.68,183.9 624.92,183.9 625.17,183.9 625.41,183.9 625.65,183.9 625.89,183.9 626.13,183.9 626.38,183.9 626.62,183.9 626.86,183.9 627.1,183.9 627.34,183.9 627.59,176.36 627.83,183.9 628.07,183.9 628.31,176.36 628.55,183.9 628.8,183.9 629.04,183.9 629.28,183.9 629.52,183.9 629.76,183.9 630.01,183.9 630.25,183.9 630.49,183.9 630.73,183.9 630.97,183.9 631.22,183.9 631.46,183.9 631.7,183.9 631.94,183.9 632.18,183.9 632.43,183.9 632.67,183.9 632.91,183.9 633.15,183.9 633.39,183.9 633.64,183.9 633.88,183.9 634.12,183.9 634.36,183.9 634.6,183.9 634.85,183.9 635.09,183.9 635.33,183.9 635.57,183.9 635.81,183.9 636.06,183.9 636.3,183.9 636.54,183.9 636.78,183.9 637.02,183.9 637.27,183.9 637.51,183.9 637.75,183.9 637.99,183.9 638.23,183.9 638.48,183.9 638.72,183.9 638.96,183.9 639.2,183.9 639.44,183.9 639.69,183.9 639.93,183.9 640.17,183.9 640.41,183.9 640.65,183.9 640.9,183.9 641.14,183.9 641.38,183.9 641.62,183.9 641.86,183.9 642.11,183.9 642.35,183.9 642.59,183.9 642.83,183.9 643.07,183.9 643.32,183.9 643.56,183.9 643.8,183.9 644.04,183.9 644.28,183.9 644.53,183.9 644.77,183.9 645.01,183.9 645.25,183.9 645.49,183.9 645.74,183.9 645.98,183.9 646.22,183.9 646.46,176.36 646.7,176.36 646.95,176.36 647.19,176.36 647.43,176.36 647.67,183.9 647.91,168.82 648.16,183.9 648.4,168.82 648.64,183.9 648.88,168.82 649.12,168.82 649.37,183.9 649.61,183.9 649.85,168.82 650.09,176.36 650.33,176.36 650.58,176.36 650.82,176.36 651.06,183.9 651.3,183.9 651.54,183.9 651.79,183.9 652.03,183.9 652.27,183.9 652.51,183.9 652.75,183.9 653,183.9 653.24,183.9 653.48,183.9 653.72,183.9 653.96,183.9 654.21,183.9 654.45,183.9 654.69,183.9 654.93,183.9 655.17,183.9 655.42,183.9 655.66,183.9 655.9,183.9 656.14,183.9 656.38,183.9 656.63,183.9 656.87,183.9 657.11,183.9 657.35,183.9 657.59,183.9 657.84,183.9 658.08,183.9 658.32,183.9 658.56,183.9 658.8,183.9 659.05,183.9 659.29,183.9 659.53,183.9 659.77,183.9 660.01,183.9 660.26,183.9 660.5,183.9 660.74,183.9 660.98,183.9 661.22,183.9 661.47,183.9 661.71,183.9 661.95,183.9 662.19,183.9 662.43,183.9 662.68,183.9 662.92,183.9 663.16,183.9 663.4,183.9 663.64,183.9 663.89,183.9 664.13,183.9 664.37,183.9 664.61,183.9 664.85,183.9 665.1,183.9 665.34,183.9 665.58,183.9 665.82,183.9 666.06,183.9 666.31,183.9 666.55,183.9 666.79,183.9 667.03,183.9 667.27,183.9 667.52,183.9 667.76,183.9 668,183.9" fill="none" stroke="#1f77b4" stroke-width="1.5" stroke-linejoin="round" stroke-linejoin="miter" stroke-miterlimit="3"/>
</g>
<rect x="426" y="143.85" width="242" height="40.05" fill="none" stroke="#000" stroke-width="1.07"/>
<line x1="426" y1="183.9" x2="426" y2="178.57" stroke="#000" stroke-width="1.07" />
<line x1="426" y1="143.85" x2="426" y2="149.18" stroke="#000" stroke-width="1.07" />
<line x1="474.4" y1="183.9" x2="474.4" y2="178.57" stroke="#000" stroke-width="1.07" />
<line x1="474.4" y1="143.85" x2="474.4" y2="149.18" stroke="#000" stroke-width="1.07" />
<line x1="522.8" y1="183.9" x2="522.8" y2="178.57" stroke="#000" stroke-width="1.07" />
<line x1="522.8" y1="143.85" x2="522.8" y2="149.18" stroke="#000" stroke-width="1.07" />
<line x1="571.2" y1="183.9" x2="571.2" y2="178.57" stroke="#000" stroke-width="1.07" />
<line x1="571.2" y1="143.85" x2="571.2" y2="149.18" stroke="#000" stroke-width="1.07" />
<line x1="619.6" y1="183.9" x2="619.6" y2="178.57" stroke="#000" stroke-width="1.07" />
<line x1="619.6" y1="143.85" x2="619.6" y2="149.18" stroke="#000" stroke-width="1.07" />
<line x1="668" y1="183.9" x2="668" y2="178.57" stroke="#000" stroke-width="1.07" />
<line x1="668" y1="143.85" x2="668" y2="149.18" stroke="#000" stroke-width="1.07" />
<line x1="426" y1="183.9" x2="431.33" y2="183.9" stroke="#000" stroke-width="1.07" />
<line x1="668" y1="183.9" x2="662.67" y2="183.9" stroke="#000" stroke-width="1.07" />
<line x1="426" y1="176.36" x2="429" y2="176.36" stroke="#000" stroke-width="0.8" />
<line x1="668" y1="176.36" x2="665" y2="176.36" stroke="#000" stroke-width="0.8" />
<line x1="426" y1="168.82" x2="429" y2="168.82" stroke="#000" stroke-width="0.8" />
<line x1="668" y1="168.82" x2="665" y2="168.82" stroke="#000" stroke-width="0.8" />
<line x1="426" y1="161.27" x2="431.33" y2="161.27" stroke="#000" stroke-width="1.07" />
<line x1="668" y1="161.27" x2="662.67" y2="161.27" stroke="#000" stroke-width="1.07" />
<line x1="426" y1="153.73" x2="429" y2="153.73" stroke="#000" stroke-width="0.8" />
<line x1="668" y1="153.73" x2="665" y2="153.73" stroke="#000" stroke-width="0.8" />
<line x1="426" y1="146.19" x2="429" y2="146.19" stroke="#000" stroke-width="0.8" />
<line x1="668" y1="146.19" x2="665" y2="146.19" stroke="#000" stroke-width="0.8" />
<text x="412.51" y="189.4" font-size="16">0</text>
<text x="412.52" y="166.77" font-size="16">3</text>
<path transform="translate(565.5,155.3) scale(1.0,1.0)" d="M1.6,0.6 C0.4,2.0 0.5,5.4 2.6,6.6 C4.6,7.5 7.4,6.3 8.4,4.0 C9.2,2.0 8.3,0.5 6.6,0.5 C4.9,0.5 3.9,2.8 3.5,6.0 L2.7,10.2" fill="none" stroke="#000" stroke-width="1.05" stroke-linecap="round"/>
<text x="575.33" y="164.6" font-size="11.2" font-style="italic" textLength="11.91" lengthAdjust="spacingAndGlyphs">th</text>
<line x1="589.4" y1="157.8" x2="599.6" y2="157.8" stroke="#000" stroke-width="0.8" />
<line x1="589.4" y1="161.2" x2="599.6" y2="161.2" stroke="#000" stroke-width="0.8" />
<text x="605.59" y="163.1" font-size="16">1.00</text>
<text x="409.78" y="201.3" font-size="16">7000</text>
<text x="458.18" y="201.3" font-size="16">7200</text>
<text x="506.58" y="201.3" font-size="16">7400</text>
<text x="554.98" y="201.3" font-size="16">7600</text>
<text x="603.38" y="201.3" font-size="16">7800</text>
<text x="652" y="201.3" font-size="16">8000</text>
<text x="543.5" y="220.7" font-size="16.5" font-style="italic" textLength="5.69" lengthAdjust="spacingAndGlyphs">t</text>
<g transform="translate(386.8,161) rotate(-90)">
<text x="-0.2" y="0" font-size="15.7" textLength="75.2" lengthAdjust="spacingAndGlyphs">Number of</text>
</g>
<g transform="translate(403.2,169.3) rotate(-90)">
<text x="0.14" y="0" font-size="15.7" textLength="92.27" lengthAdjust="spacingAndGlyphs">turning fishes</text>
</g>
<text x="370.49" y="18.9" font-size="24.5" font-weight="bold">b)</text>
<line x1="78.74" y1="409.1" x2="78.74" y2="248.4" stroke="#777" stroke-width="1.6" stroke-dasharray="1.6 2.64"/>
<line x1="159.44" y1="409.1" x2="159.44" y2="248.4" stroke="#777" stroke-width="1.6" stroke-dasharray="1.6 2.64"/>
<line x1="62.6" y1="367.97" x2="304.7" y2="367.97" stroke="#777" stroke-width="1.6" stroke-dasharray="1.6 2.64"/>
<clipPath id="cc"><rect x="62.6" y="248.4" width="242.1" height="160.70000000000002"/></clipPath>
<g clip-path="url(#cc)">
<polyline points="65.8,408.8 71.4,395.3 73.7,345 76.6,309.3 78.8,278.3 81.1,262.7 82.8,256.1 86.2,257.2 89.9,267.2 94.4,281.6 98.8,293.8 103.2,302.6 107,312.6 111,322.6 115.4,327 119.9,332.6 126.5,339.9 133.1,345.1 139,349.9 144.8,353.3 150.7,355.8 156.5,358.7 162.3,360.9 168.2,363.2 175.5,365 182.8,367 191.5,368.9 198.8,371.1 207.6,373.3 213.4,374.5 217.3,375.4 223.9,376.9 228.2,378.6 233.4,379.5 240.7,381 248,383.5 255.3,385.7 262.6,387.8 268.4,389.3 274.2,390.8 281.5,393.2 288.1,395.9 293.2,397.3 297.6,399.1 305,402" fill="none" stroke="#1f77b4" stroke-width="2.0" stroke-linejoin="round" />
</g>
<rect x="62.6" y="248.4" width="242.1" height="160.7" fill="none" stroke="#000" stroke-width="1.07"/>
<line x1="62.6" y1="409.1" x2="62.6" y2="403.77" stroke="#000" stroke-width="1.07" />
<line x1="62.6" y1="248.4" x2="62.6" y2="253.73" stroke="#000" stroke-width="1.07" />
<line x1="143.3" y1="409.1" x2="143.3" y2="403.77" stroke="#000" stroke-width="1.07" />
<line x1="143.3" y1="248.4" x2="143.3" y2="253.73" stroke="#000" stroke-width="1.07" />
<line x1="224" y1="409.1" x2="224" y2="403.77" stroke="#000" stroke-width="1.07" />
<line x1="224" y1="248.4" x2="224" y2="253.73" stroke="#000" stroke-width="1.07" />
<line x1="304.7" y1="409.1" x2="304.7" y2="403.77" stroke="#000" stroke-width="1.07" />
<line x1="304.7" y1="248.4" x2="304.7" y2="253.73" stroke="#000" stroke-width="1.07" />
<line x1="62.6" y1="409.1" x2="67.93" y2="409.1" stroke="#000" stroke-width="1.07" />
<line x1="304.7" y1="409.1" x2="299.37" y2="409.1" stroke="#000" stroke-width="1.07" />
<line x1="62.6" y1="367.97" x2="67.93" y2="367.97" stroke="#000" stroke-width="1.07" />
<line x1="304.7" y1="367.97" x2="299.37" y2="367.97" stroke="#000" stroke-width="1.07" />
<line x1="62.6" y1="326.84" x2="67.93" y2="326.84" stroke="#000" stroke-width="1.07" />
<line x1="304.7" y1="326.84" x2="299.37" y2="326.84" stroke="#000" stroke-width="1.07" />
<line x1="62.6" y1="285.71" x2="67.93" y2="285.71" stroke="#000" stroke-width="1.07" />
<line x1="304.7" y1="285.71" x2="299.37" y2="285.71" stroke="#000" stroke-width="1.07" />
<text x="58.6" y="425.5" font-size="16">0</text>
<text x="139.08" y="425.5" font-size="16">1</text>
<text x="220.09" y="425.5" font-size="16">2</text>
<text x="300.63" y="425.5" font-size="16">3</text>
<text x="48.81" y="414.9" font-size="16">0</text>
<text x="24.81" y="373.77" font-size="16">1000</text>
<text x="24.81" y="332.64" font-size="16">2000</text>
<text x="24.81" y="291.51" font-size="16">3000</text>
<path transform="translate(172.9,438.9) scale(1.0,1.0)" d="M1.6,0.6 C0.4,2.0 0.5,5.4 2.6,6.6 C4.6,7.5 7.4,6.3 8.4,4.0 C9.2,2.0 8.3,0.5 6.6,0.5 C4.9,0.5 3.9,2.8 3.5,6.0 L2.7,10.2" fill="none" stroke="#000" stroke-width="1.05" stroke-linecap="round"/>
<text x="183.35" y="448.8" font-size="11.2" font-style="italic" textLength="11.46" lengthAdjust="spacingAndGlyphs">th</text>
<g transform="translate(15.8,405.2) rotate(-90)">
<text x="-0.19" y="0" font-size="15.7" textLength="153.61" lengthAdjust="spacingAndGlyphs">Number of avalanches</text>
</g>
<text x="3.02" y="234.9" font-size="24.5" font-weight="bold" textLength="20.01" lengthAdjust="spacingAndGlyphs">c)</text>
<line x1="442.14" y1="409.1" x2="442.14" y2="248.4" stroke="#777" stroke-width="1.6" stroke-dasharray="1.6 2.64"/>
<line x1="522.84" y1="409.1" x2="522.84" y2="248.4" stroke="#777" stroke-width="1.6" stroke-dasharray="1.6 2.64"/>
<line x1="426" y1="351.35" x2="668.1" y2="351.35" stroke="#777" stroke-width="1.6" stroke-dasharray="1.6 2.64"/>
<clipPath id="cd"><rect x="426.0" y="248.4" width="242.10000000000002" height="160.70000000000002"/></clipPath>
<g clip-path="url(#cd)">
<polyline points="426,408.6 432.5,334.1 439.1,300 441.7,278.3 446.2,263.8 450.2,256.5 453.9,258.3 458.4,262.7 462.1,269 466.1,271.2 470.6,277.2 475,282.3 479,284.5 482.8,288.9 487.2,291.6 490.5,295.6 495,297.1 499.4,300.9 507.1,308.9 511.6,310.4 515,313 519,313.6 523,319.5 527,321.9 531,324.9 535,325.9 539,326.9 543,337.5 547,338.9 551,340.9 555,343.3 559,343.5 563,344.9 567,346.3 573,346.9 579,347.9 586.9,348.5 590.8,349.9 598.8,351.5 603.9,352.6 607.8,354.5 611.6,354.9 615.5,354.1 619.4,354.6 623.3,355.7 627.2,357.2 631,357.6 635.7,357.2 639.6,356.5 643.5,360.7 648.1,364.7 652,366.6 655.9,377.4 659.8,385.2 663.6,385.5 668,386.4" fill="none" stroke="#1f77b4" stroke-width="2.0" stroke-linejoin="round" />
<polyline points="426,408.5 433.3,334.1 436.2,324.4 438.6,320.7 442.3,319 447.2,318.5 450.3,317.1 454.5,320 458.1,322 463,326.3 466.7,328 471.6,331.7 476.4,334.1 481.3,337.8 486.2,339.5 491.1,342.7 496,343.4 502,346.3 508.1,348 515.5,350.5 519,350.9 523,354.9 527,357.3 531,358.9 535,359.1 539,359.9 543,362.9 547,362.5 551,363.5 555,365.8 559,365.8 563,366.8 568.9,367.2 574.9,366.2 580.9,367.2 586.9,368.4 592.8,369.4 598.8,369.8 606.8,370.8 612.8,370.2 615.5,370 620.2,369.4 628,372 635.7,373.5 640.4,373.5 648.1,375.1 652,374 655.1,382.9 659.8,387.5 663.6,388.3 668,388.3" fill="none" stroke="#ff7f0e" stroke-width="2.0" stroke-linejoin="round" />
</g>
<rect x="426" y="248.4" width="242.1" height="160.7" fill="none" stroke="#000" stroke-width="1.07"/>
<line x1="426" y1="409.1" x2="426" y2="403.77" stroke="#000" stroke-width="1.07" />
<line x1="426" y1="248.4" x2="426" y2="253.73" stroke="#000" stroke-width="1.07" />
<line x1="506.7" y1="409.1" x2="506.7" y2="403.77" stroke="#000" stroke-width="1.07" />
<line x1="506.7" y1="248.4" x2="506.7" y2="253.73" stroke="#000" stroke-width="1.07" />
<line x1="587.4" y1="409.1" x2="587.4" y2="403.77" stroke="#000" stroke-width="1.07" />
<line x1="587.4" y1="248.4" x2="587.4" y2="253.73" stroke="#000" stroke-width="1.07" />
<line x1="668.1" y1="409.1" x2="668.1" y2="403.77" stroke="#000" stroke-width="1.07" />
<line x1="668.1" y1="248.4" x2="668.1" y2="253.73" stroke="#000" stroke-width="1.07" />
<line x1="426" y1="409.1" x2="431.33" y2="409.1" stroke="#000" stroke-width="1.07" />
<line x1="668.1" y1="409.1" x2="662.77" y2="409.1" stroke="#000" stroke-width="1.07" />
<line x1="426" y1="351.35" x2="431.33" y2="351.35" stroke="#000" stroke-width="1.07" />
<line x1="668.1" y1="351.35" x2="662.77" y2="351.35" stroke="#000" stroke-width="1.07" />
<line x1="426" y1="293.6" x2="431.33" y2="293.6" stroke="#000" stroke-width="1.07" />
<line x1="668.1" y1="293.6" x2="662.77" y2="293.6" stroke="#000" stroke-width="1.07" />
<text x="422" y="425.5" font-size="16">0</text>
<text x="502.48" y="425.5" font-size="16">1</text>
<text x="583.49" y="425.5" font-size="16">2</text>
<text x="664.03" y="425.5" font-size="16">3</text>
<text x="412.21" y="414.6" font-size="16">0</text>
<text x="412.56" y="356.85" font-size="16">1</text>
<text x="412.48" y="299.1" font-size="16">2</text>
<line x1="601.8" y1="268.7" x2="636.2" y2="268.7" stroke="#1f77b4" stroke-width="2.0" />
<line x1="601.8" y1="291" x2="636.2" y2="291" stroke="#ff7f0e" stroke-width="2.0" />
<text x="646.96" y="273.8" font-size="16" textLength="6.98" lengthAdjust="spacingAndGlyphs">s</text>
<text x="647.82" y="296.1" font-size="16" textLength="5.09" lengthAdjust="spacingAndGlyphs">t</text>
<path transform="translate(536.4,438.9) scale(1.0,1.0)" d="M1.6,0.6 C0.4,2.0 0.5,5.4 2.6,6.6 C4.6,7.5 7.4,6.3 8.4,4.0 C9.2,2.0 8.3,0.5 6.6,0.5 C4.9,0.5 3.9,2.8 3.5,6.0 L2.7,10.2" fill="none" stroke="#000" stroke-width="1.05" stroke-linecap="round"/>
<text x="546.85" y="448.8" font-size="11.2" font-style="italic" textLength="11.46" lengthAdjust="spacingAndGlyphs">th</text>
<g transform="translate(402.2,341.6) rotate(-90)">
<text x="-0.06" y="0" font-size="14.5" font-style="italic" textLength="7.57" lengthAdjust="spacingAndGlyphs">σ</text>
<text x="17.62" y="0" font-size="15" font-style="italic" textLength="8.23" lengthAdjust="spacingAndGlyphs">μ</text>
</g>
<text x="376.33" y="236.8" font-size="24.5" font-weight="bold" textLength="23.54" lengthAdjust="spacingAndGlyphs">d)</text>
<line x1="390.4" y1="326" x2="405.9" y2="331.6" stroke="#000" stroke-width="0.95" />
</svg></body></html>
